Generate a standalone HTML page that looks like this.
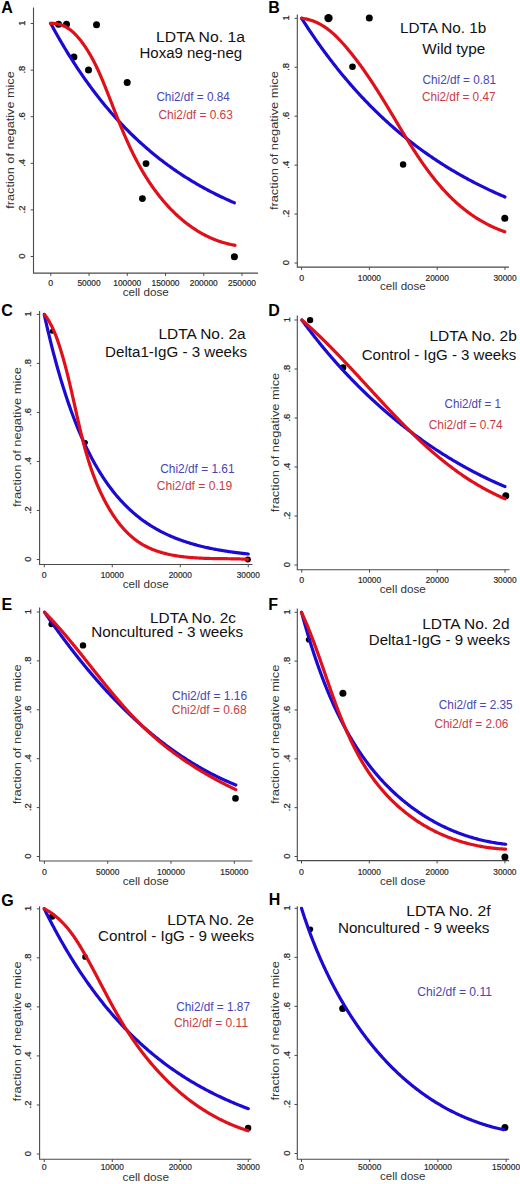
<!DOCTYPE html>
<html><head><meta charset="utf-8"><style>
html,body{margin:0;padding:0;background:#fff;}
svg{display:block;}
text{font-family:"Liberation Sans", sans-serif;}
</style></head><body>
<svg width="520" height="1184" viewBox="0 0 520 1184">
<rect width="520" height="1184" fill="#fff"/>
<text x="1.30" y="12.60" font-size="16" fill="#000" font-weight="bold" >A</text>
<path d="M33.50,7.40V273.10H258.00" fill="none" stroke="#4a4a4a" stroke-width="1.1"/>
<line x1="30.70" y1="256.50" x2="33.50" y2="256.50" stroke="#4a4a4a" stroke-width="1"/>
<text transform="translate(24.90,256.10) rotate(-90)" font-size="9.4" fill="#2a2a2a" text-anchor="middle" stroke="#2a2a2a" stroke-width="0.25">0</text>
<line x1="30.70" y1="209.90" x2="33.50" y2="209.90" stroke="#4a4a4a" stroke-width="1"/>
<text transform="translate(24.90,209.50) rotate(-90)" font-size="9.4" fill="#2a2a2a" text-anchor="middle" stroke="#2a2a2a" stroke-width="0.25">.2</text>
<line x1="30.70" y1="163.30" x2="33.50" y2="163.30" stroke="#4a4a4a" stroke-width="1"/>
<text transform="translate(24.90,162.90) rotate(-90)" font-size="9.4" fill="#2a2a2a" text-anchor="middle" stroke="#2a2a2a" stroke-width="0.25">.4</text>
<line x1="30.70" y1="116.70" x2="33.50" y2="116.70" stroke="#4a4a4a" stroke-width="1"/>
<text transform="translate(24.90,116.30) rotate(-90)" font-size="9.4" fill="#2a2a2a" text-anchor="middle" stroke="#2a2a2a" stroke-width="0.25">.6</text>
<line x1="30.70" y1="70.10" x2="33.50" y2="70.10" stroke="#4a4a4a" stroke-width="1"/>
<text transform="translate(24.90,69.70) rotate(-90)" font-size="9.4" fill="#2a2a2a" text-anchor="middle" stroke="#2a2a2a" stroke-width="0.25">.8</text>
<line x1="30.70" y1="23.50" x2="33.50" y2="23.50" stroke="#4a4a4a" stroke-width="1"/>
<text transform="translate(24.90,23.10) rotate(-90)" font-size="9.4" fill="#2a2a2a" text-anchor="middle" stroke="#2a2a2a" stroke-width="0.25">1</text>
<line x1="50.80" y1="273.10" x2="50.80" y2="275.90" stroke="#4a4a4a" stroke-width="1"/>
<text x="50.80" y="286.00" font-size="8.8" fill="#2a2a2a" text-anchor="middle" stroke="#2a2a2a" stroke-width="0.2">0</text>
<line x1="89.04" y1="273.10" x2="89.04" y2="275.90" stroke="#4a4a4a" stroke-width="1"/>
<text x="89.04" y="286.00" font-size="8.8" fill="#2a2a2a" text-anchor="middle" textLength="23.2" lengthAdjust="spacingAndGlyphs" stroke="#2a2a2a" stroke-width="0.2">50000</text>
<line x1="127.28" y1="273.10" x2="127.28" y2="275.90" stroke="#4a4a4a" stroke-width="1"/>
<text x="127.28" y="286.00" font-size="8.8" fill="#2a2a2a" text-anchor="middle" textLength="28" lengthAdjust="spacingAndGlyphs" stroke="#2a2a2a" stroke-width="0.2">100000</text>
<line x1="165.52" y1="273.10" x2="165.52" y2="275.90" stroke="#4a4a4a" stroke-width="1"/>
<text x="165.52" y="286.00" font-size="8.8" fill="#2a2a2a" text-anchor="middle" textLength="28" lengthAdjust="spacingAndGlyphs" stroke="#2a2a2a" stroke-width="0.2">150000</text>
<line x1="203.76" y1="273.10" x2="203.76" y2="275.90" stroke="#4a4a4a" stroke-width="1"/>
<text x="203.76" y="286.00" font-size="8.8" fill="#2a2a2a" text-anchor="middle" textLength="28" lengthAdjust="spacingAndGlyphs" stroke="#2a2a2a" stroke-width="0.2">200000</text>
<line x1="242.00" y1="273.10" x2="242.00" y2="275.90" stroke="#4a4a4a" stroke-width="1"/>
<text x="242.00" y="286.00" font-size="8.8" fill="#2a2a2a" text-anchor="middle" textLength="28" lengthAdjust="spacingAndGlyphs" stroke="#2a2a2a" stroke-width="0.2">250000</text>
<text x="122.70" y="296.30" font-size="11.2" fill="#333" textLength="46" lengthAdjust="spacingAndGlyphs" >cell dose</text>
<text transform="translate(14.40,140.00) rotate(-90)" font-size="11.2" fill="#333" text-anchor="middle" textLength="137.5" lengthAdjust="spacingAndGlyphs" >fraction of negative mice</text>
<text x="156.10" y="41.90" font-size="14.0" fill="#111" textLength="88.8" lengthAdjust="spacingAndGlyphs" >LDTA No. 1a</text>
<text x="139.50" y="58.10" font-size="14.0" fill="#111" textLength="102.6" lengthAdjust="spacingAndGlyphs" >Hoxa9 neg-neg</text>
<text x="156.40" y="101.20" font-size="12.5" fill="#4646b4" textLength="73.4" lengthAdjust="spacingAndGlyphs" >Chi2/df = 0.84</text>
<text x="158.50" y="119.20" font-size="12.5" fill="#c83c46" textLength="74.30000000000001" lengthAdjust="spacingAndGlyphs" >Chi2/df = 0.63</text>
<circle cx="58.50" cy="24.20" r="3.5" fill="#000"/>
<circle cx="66.50" cy="24.20" r="3.5" fill="#000"/>
<circle cx="96.50" cy="24.70" r="3.5" fill="#000"/>
<circle cx="73.90" cy="57.00" r="3.5" fill="#000"/>
<circle cx="88.50" cy="69.90" r="3.5" fill="#000"/>
<circle cx="127.20" cy="82.40" r="3.5" fill="#000"/>
<circle cx="146.00" cy="163.60" r="3.4" fill="#000"/>
<circle cx="142.40" cy="198.60" r="3.4" fill="#000"/>
<circle cx="234.40" cy="256.70" r="3.5" fill="#000"/>
<polyline points="50.80,23.50 52.34,26.35 53.88,29.17 55.43,31.96 56.97,34.71 58.51,37.43 60.05,40.11 61.60,42.76 63.14,45.38 64.68,47.97 66.22,50.52 67.77,53.05 69.31,55.54 70.85,58.00 72.39,60.43 73.94,62.84 75.48,65.21 77.02,67.55 78.56,69.87 80.11,72.15 81.65,74.41 83.19,76.64 84.73,78.85 86.28,81.02 87.82,83.17 89.36,85.30 90.90,87.40 92.45,89.47 93.99,91.51 95.53,93.53 97.07,95.53 98.62,97.50 100.16,99.45 101.70,101.38 103.24,103.28 104.79,105.15 106.33,107.01 107.87,108.84 109.41,110.65 110.96,112.44 112.50,114.20 114.04,115.94 115.58,117.67 117.13,119.37 118.67,121.05 120.21,122.71 121.75,124.35 123.30,125.97 124.84,127.56 126.38,129.14 127.92,130.70 129.47,132.25 131.01,133.77 132.55,135.27 134.09,136.76 135.63,138.22 137.18,139.67 138.72,141.10 140.26,142.52 141.80,143.92 143.35,145.29 144.89,146.66 146.43,148.00 147.97,149.33 149.52,150.65 151.06,151.94 152.60,153.22 154.14,154.49 155.69,155.74 157.23,156.97 158.77,158.19 160.31,159.40 161.86,160.59 163.40,161.76 164.94,162.92 166.48,164.07 168.03,165.20 169.57,166.32 171.11,167.42 172.65,168.52 174.20,169.59 175.74,170.66 177.28,171.71 178.82,172.75 180.37,173.78 181.91,174.79 183.45,175.79 184.99,176.78 186.54,177.76 188.08,178.72 189.62,179.67 191.16,180.61 192.71,181.54 194.25,182.46 195.79,183.37 197.33,184.27 198.88,185.15 200.42,186.03 201.96,186.89 203.50,187.74 205.05,188.58 206.59,189.42 208.13,190.24 209.67,191.05 211.22,191.85 212.76,192.64 214.30,193.43 215.84,194.20 217.39,194.96 218.93,195.72 220.47,196.46 222.01,197.20 223.55,197.92 225.10,198.64 226.64,199.35 228.18,200.05 229.72,200.74 231.27,201.42 232.81,202.10 234.35,202.77" fill="none" stroke="#1a0ad2" stroke-width="3.2" stroke-linejoin="round" stroke-linecap="round"/>
<polyline points="50.40,23.40 51.53,23.37 52.64,23.38 53.72,23.42 54.79,23.51 55.84,23.63 56.86,23.79 57.87,23.98 58.86,24.20 59.83,24.46 60.78,24.75 61.71,25.07 62.63,25.42 63.53,25.80 64.41,26.21 65.28,26.64 66.13,27.10 66.97,27.59 67.79,28.10 68.60,28.63 69.39,29.18 70.17,29.76 70.94,30.36 71.69,30.97 72.43,31.61 73.16,32.26 73.87,32.93 74.58,33.61 75.27,34.31 75.96,35.02 76.63,35.75 77.29,36.48 77.95,37.23 78.59,37.99 79.23,38.76 79.86,39.53 80.48,40.31 81.09,41.10 81.70,41.89 82.30,42.69 82.89,43.50 83.48,44.31 84.05,45.12 84.63,45.95 85.19,46.77 85.75,47.61 86.30,48.45 86.85,49.29 87.39,50.14 87.92,50.99 88.45,51.85 88.97,52.71 89.49,53.58 90.00,54.45 90.50,55.32 91.00,56.20 91.49,57.09 91.98,57.98 92.47,58.87 92.95,59.76 93.42,60.66 93.89,61.57 94.36,62.47 94.82,63.38 95.27,64.29 95.73,65.21 96.17,66.13 96.62,67.05 97.06,67.98 97.49,68.90 97.93,69.83 98.35,70.77 98.78,71.70 99.20,72.64 99.62,73.58 100.04,74.52 100.45,75.46 100.86,76.41 101.27,77.35 101.67,78.30 102.07,79.25 102.47,80.20 102.87,81.16 103.26,82.11 103.66,83.07 104.05,84.02 104.44,84.98 104.82,85.94 105.21,86.89 105.59,87.85 105.98,88.81 106.36,89.77 106.74,90.73 107.12,91.69 107.49,92.65 107.87,93.61 108.25,94.57 108.62,95.53 109.00,96.49 109.37,97.45 109.75,98.40 110.12,99.36 110.50,100.32 110.87,101.27 111.24,102.23 111.61,103.19 111.99,104.14 112.36,105.10 112.73,106.05 113.11,107.00 113.48,107.96 113.85,108.91 114.22,109.86 114.60,110.81 114.97,111.76 115.35,112.71 115.72,113.66 116.10,114.61 116.47,115.55 116.85,116.50 117.22,117.45 117.60,118.39 117.98,119.34 118.36,120.28 118.74,121.22 119.12,122.16 119.50,123.11 119.89,124.05 120.27,124.99 120.66,125.92 121.04,126.86 121.43,127.80 121.82,128.74 122.21,129.67 122.60,130.60 122.99,131.54 123.39,132.47 123.79,133.40 124.18,134.33 124.58,135.26 124.99,136.19 125.39,137.11 125.79,138.04 126.20,138.97 126.61,139.89 127.02,140.81 127.43,141.73 127.85,142.65 128.27,143.57 128.69,144.49 129.11,145.41 129.53,146.32 129.96,147.24 130.39,148.15 130.82,149.06 131.25,149.97 131.69,150.88 132.13,151.79 132.57,152.70 133.02,153.60 133.46,154.51 133.91,155.41 134.37,156.31 134.83,157.21 135.28,158.11 135.75,159.01 136.21,159.90 136.68,160.80 137.15,161.69 137.63,162.58 138.11,163.47 138.59,164.36 139.08,165.25 139.57,166.13 140.06,167.02 140.56,167.90 141.06,168.78 141.56,169.66 142.07,170.53 142.58,171.41 143.10,172.28 143.62,173.16 144.14,174.03 144.67,174.90 145.20,175.76 145.74,176.63 146.28,177.49 146.82,178.36 147.37,179.22 147.93,180.08 148.48,180.93 149.04,181.79 149.61,182.64 150.18,183.49 150.75,184.33 151.33,185.18 151.92,186.02 152.50,186.86 153.10,187.70 153.69,188.53 154.29,189.37 154.90,190.19 155.50,191.02 156.12,191.84 156.73,192.66 157.36,193.48 157.98,194.29 158.61,195.10 159.25,195.91 159.88,196.71 160.53,197.51 161.17,198.31 161.82,199.10 162.48,199.89 163.14,200.68 163.80,201.46 164.47,202.23 165.15,203.01 165.82,203.78 166.50,204.54 167.19,205.30 167.88,206.06 168.57,206.81 169.27,207.55 169.97,208.30 170.68,209.03 171.39,209.77 172.11,210.49 172.83,211.22 173.55,211.94 174.28,212.65 175.01,213.36 175.75,214.06 176.49,214.76 177.24,215.45 177.99,216.13 178.74,216.82 179.50,217.49 180.26,218.16 181.03,218.83 181.80,219.48 182.58,220.14 183.36,220.78 184.14,221.42 184.93,222.06 185.73,222.68 186.52,223.31 187.33,223.92 188.13,224.53 188.94,225.13 189.76,225.73 190.58,226.32 191.40,226.90 192.23,227.48 193.06,228.05 193.90,228.61 194.74,229.16 195.58,229.71 196.43,230.25 197.28,230.79 198.14,231.31 199.00,231.83 199.87,232.34 200.74,232.85 201.62,233.34 202.50,233.83 203.38,234.31 204.27,234.78 205.16,235.25 206.06,235.70 206.96,236.15 207.87,236.59 208.78,237.03 209.69,237.45 210.61,237.87 211.53,238.27 212.46,238.67 213.39,239.06 214.33,239.44 215.27,239.82 216.22,240.18 217.17,240.53 218.12,240.88 219.08,241.22 220.04,241.54 221.01,241.86 221.98,242.17 222.95,242.47 223.93,242.76 224.92,243.04 225.91,243.31 226.90,243.58 227.90,243.83 228.90,244.07 229.91,244.30 230.92,244.52 231.93,244.74 232.95,244.94 233.98,245.13 235.00,245.31" fill="none" stroke="#e0101a" stroke-width="3.2" stroke-linejoin="round" stroke-linecap="round"/>
<text x="268.30" y="12.50" font-size="16" fill="#000" font-weight="bold" >B</text>
<path d="M297.30,14.40V267.10H509.00" fill="none" stroke="#4a4a4a" stroke-width="1.1"/>
<line x1="294.50" y1="263.00" x2="297.30" y2="263.00" stroke="#4a4a4a" stroke-width="1"/>
<text transform="translate(289.00,262.60) rotate(-90)" font-size="9.4" fill="#2a2a2a" text-anchor="middle" stroke="#2a2a2a" stroke-width="0.25">0</text>
<line x1="294.50" y1="214.06" x2="297.30" y2="214.06" stroke="#4a4a4a" stroke-width="1"/>
<text transform="translate(289.00,213.66) rotate(-90)" font-size="9.4" fill="#2a2a2a" text-anchor="middle" stroke="#2a2a2a" stroke-width="0.25">.2</text>
<line x1="294.50" y1="165.12" x2="297.30" y2="165.12" stroke="#4a4a4a" stroke-width="1"/>
<text transform="translate(289.00,164.72) rotate(-90)" font-size="9.4" fill="#2a2a2a" text-anchor="middle" stroke="#2a2a2a" stroke-width="0.25">.4</text>
<line x1="294.50" y1="116.18" x2="297.30" y2="116.18" stroke="#4a4a4a" stroke-width="1"/>
<text transform="translate(289.00,115.78) rotate(-90)" font-size="9.4" fill="#2a2a2a" text-anchor="middle" stroke="#2a2a2a" stroke-width="0.25">.6</text>
<line x1="294.50" y1="67.24" x2="297.30" y2="67.24" stroke="#4a4a4a" stroke-width="1"/>
<text transform="translate(289.00,66.84) rotate(-90)" font-size="9.4" fill="#2a2a2a" text-anchor="middle" stroke="#2a2a2a" stroke-width="0.25">.8</text>
<line x1="294.50" y1="18.30" x2="297.30" y2="18.30" stroke="#4a4a4a" stroke-width="1"/>
<text transform="translate(289.00,17.90) rotate(-90)" font-size="9.4" fill="#2a2a2a" text-anchor="middle" stroke="#2a2a2a" stroke-width="0.25">1</text>
<line x1="301.60" y1="267.10" x2="301.60" y2="269.90" stroke="#4a4a4a" stroke-width="1"/>
<text x="301.60" y="281.10" font-size="8.8" fill="#2a2a2a" text-anchor="middle" stroke="#2a2a2a" stroke-width="0.2">0</text>
<line x1="369.40" y1="267.10" x2="369.40" y2="269.90" stroke="#4a4a4a" stroke-width="1"/>
<text x="369.40" y="281.10" font-size="8.8" fill="#2a2a2a" text-anchor="middle" textLength="23.2" lengthAdjust="spacingAndGlyphs" stroke="#2a2a2a" stroke-width="0.2">10000</text>
<line x1="437.20" y1="267.10" x2="437.20" y2="269.90" stroke="#4a4a4a" stroke-width="1"/>
<text x="437.20" y="281.10" font-size="8.8" fill="#2a2a2a" text-anchor="middle" textLength="23.2" lengthAdjust="spacingAndGlyphs" stroke="#2a2a2a" stroke-width="0.2">20000</text>
<line x1="505.00" y1="267.10" x2="505.00" y2="269.90" stroke="#4a4a4a" stroke-width="1"/>
<text x="505.00" y="281.10" font-size="8.8" fill="#2a2a2a" text-anchor="middle" textLength="23.2" lengthAdjust="spacingAndGlyphs" stroke="#2a2a2a" stroke-width="0.2">30000</text>
<text x="380.00" y="289.60" font-size="11.2" fill="#333" textLength="45.8" lengthAdjust="spacingAndGlyphs" >cell dose</text>
<text transform="translate(278.20,140.60) rotate(-90)" font-size="11.2" fill="#333" text-anchor="middle" textLength="139" lengthAdjust="spacingAndGlyphs" >fraction of negative mice</text>
<text x="399.90" y="33.10" font-size="14.0" fill="#111" textLength="86.5" lengthAdjust="spacingAndGlyphs" >LDTA No. 1b</text>
<text x="422.30" y="53.80" font-size="14.0" fill="#111" textLength="62.9" lengthAdjust="spacingAndGlyphs" >Wild type</text>
<text x="422.60" y="84.30" font-size="12.5" fill="#4646b4" textLength="73.4" lengthAdjust="spacingAndGlyphs" >Chi2/df = 0.81</text>
<text x="421.90" y="100.70" font-size="12.5" fill="#c83c46" textLength="73.60000000000001" lengthAdjust="spacingAndGlyphs" >Chi2/df = 0.47</text>
<circle cx="328.50" cy="18.10" r="4.2" fill="#000"/>
<circle cx="369.30" cy="18.10" r="3.5" fill="#000"/>
<circle cx="352.50" cy="66.80" r="3.3" fill="#000"/>
<circle cx="403.10" cy="164.50" r="3.2" fill="#000"/>
<circle cx="504.80" cy="218.20" r="3.5" fill="#000"/>
<polyline points="301.60,18.30 302.62,19.91 303.64,21.50 304.67,23.08 305.69,24.66 306.71,26.22 307.73,27.78 308.75,29.32 309.78,30.85 310.80,32.38 311.82,33.89 312.84,35.39 313.87,36.88 314.89,38.37 315.91,39.84 316.93,41.31 317.95,42.76 318.98,44.21 320.00,45.64 321.02,47.07 322.04,48.48 323.06,49.89 324.09,51.29 325.11,52.68 326.13,54.06 327.15,55.43 328.17,56.79 329.20,58.14 330.22,59.49 331.24,60.82 332.26,62.15 333.29,63.47 334.31,64.78 335.33,66.08 336.35,67.37 337.37,68.65 338.40,69.93 339.42,71.19 340.44,72.45 341.46,73.70 342.48,74.94 343.51,76.18 344.53,77.40 345.55,78.62 346.57,79.83 347.59,81.03 348.62,82.23 349.64,83.41 350.66,84.59 351.68,85.76 352.71,86.92 353.73,88.08 354.75,89.23 355.77,90.37 356.79,91.50 357.82,92.62 358.84,93.74 359.86,94.85 360.88,95.96 361.90,97.05 362.93,98.14 363.95,99.22 364.97,100.30 365.99,101.36 367.02,102.42 368.04,103.48 369.06,104.52 370.08,105.56 371.10,106.60 372.13,107.62 373.15,108.64 374.17,109.65 375.19,110.66 376.21,111.66 377.24,112.65 378.26,113.64 379.28,114.62 380.30,115.59 381.32,116.56 382.35,117.52 383.37,118.47 384.39,119.42 385.41,120.37 386.44,121.30 387.46,122.23 388.48,123.15 389.50,124.07 390.52,124.98 391.55,125.89 392.57,126.79 393.59,127.68 394.61,128.57 395.63,129.45 396.66,130.33 397.68,131.20 398.70,132.06 399.72,132.92 400.74,133.78 401.77,134.62 402.79,135.47 403.81,136.30 404.83,137.13 405.86,137.96 406.88,138.78 407.90,139.59 408.92,140.40 409.94,141.21 410.97,142.01 411.99,142.80 413.01,143.59 414.03,144.37 415.05,145.15 416.08,145.92 417.10,146.69 418.12,147.46 419.14,148.21 420.16,148.97 421.19,149.71 422.21,150.46 423.23,151.20 424.25,151.93 425.28,152.66 426.30,153.38 427.32,154.10 428.34,154.82 429.36,155.53 430.39,156.23 431.41,156.93 432.43,157.63 433.45,158.32 434.47,159.01 435.50,159.69 436.52,160.37 437.54,161.04 438.56,161.71 439.58,162.37 440.61,163.03 441.63,163.69 442.65,164.34 443.67,164.99 444.70,165.63 445.72,166.27 446.74,166.90 447.76,167.53 448.78,168.16 449.81,168.78 450.83,169.40 451.85,170.01 452.87,170.62 453.89,171.23 454.92,171.83 455.94,172.43 456.96,173.03 457.98,173.62 459.01,174.20 460.03,174.78 461.05,175.36 462.07,175.94 463.09,176.51 464.12,177.08 465.14,177.64 466.16,178.20 467.18,178.76 468.20,179.31 469.23,179.86 470.25,180.40 471.27,180.95 472.29,181.48 473.31,182.02 474.34,182.55 475.36,183.08 476.38,183.60 477.40,184.12 478.43,184.64 479.45,185.15 480.47,185.67 481.49,186.17 482.51,186.68 483.54,187.18 484.56,187.68 485.58,188.17 486.60,188.66 487.62,189.15 488.65,189.63 489.67,190.11 490.69,190.59 491.71,191.07 492.73,191.54 493.76,192.01 494.78,192.47 495.80,192.94 496.82,193.40 497.85,193.85 498.87,194.31 499.89,194.76 500.91,195.20 501.93,195.65 502.96,196.09 503.98,196.53 505.00,196.97" fill="none" stroke="#1a0ad2" stroke-width="3.2" stroke-linejoin="round" stroke-linecap="round"/>
<polyline points="301.60,18.28 302.66,18.42 303.72,18.57 304.76,18.74 305.79,18.94 306.80,19.15 307.81,19.39 308.80,19.64 309.79,19.92 310.76,20.21 311.72,20.52 312.67,20.85 313.61,21.20 314.54,21.56 315.47,21.95 316.38,22.35 317.28,22.76 318.17,23.19 319.05,23.64 319.93,24.10 320.79,24.58 321.65,25.07 322.50,25.57 323.33,26.09 324.16,26.62 324.99,27.17 325.80,27.73 326.61,28.30 327.41,28.88 328.20,29.48 328.98,30.08 329.76,30.70 330.53,31.33 331.29,31.96 332.05,32.61 332.80,33.27 333.54,33.93 334.28,34.61 335.01,35.29 335.73,35.98 336.45,36.68 337.17,37.38 337.88,38.10 338.58,38.82 339.28,39.54 339.97,40.27 340.66,41.01 341.34,41.75 342.02,42.50 342.70,43.25 343.37,44.01 344.04,44.76 344.70,45.53 345.37,46.29 346.02,47.06 346.68,47.83 347.33,48.60 347.98,49.38 348.62,50.15 349.26,50.93 349.90,51.71 350.54,52.49 351.17,53.28 351.80,54.06 352.43,54.85 353.05,55.64 353.68,56.43 354.29,57.23 354.91,58.02 355.53,58.82 356.14,59.62 356.75,60.42 357.35,61.23 357.96,62.03 358.56,62.84 359.16,63.64 359.75,64.46 360.35,65.27 360.94,66.08 361.53,66.90 362.12,67.71 362.70,68.53 363.29,69.35 363.87,70.17 364.45,71.00 365.02,71.82 365.60,72.65 366.17,73.48 366.74,74.30 367.31,75.14 367.88,75.97 368.45,76.80 369.01,77.64 369.57,78.47 370.13,79.31 370.69,80.15 371.25,80.99 371.81,81.83 372.36,82.68 372.92,83.52 373.47,84.37 374.02,85.21 374.57,86.06 375.11,86.91 375.66,87.76 376.21,88.62 376.75,89.47 377.29,90.32 377.83,91.18 378.37,92.04 378.91,92.89 379.45,93.75 379.99,94.61 380.53,95.47 381.06,96.34 381.60,97.20 382.13,98.06 382.67,98.93 383.20,99.79 383.73,100.66 384.26,101.53 384.79,102.40 385.32,103.27 385.85,104.14 386.38,105.01 386.91,105.88 387.44,106.75 387.96,107.63 388.49,108.50 389.02,109.38 389.55,110.25 390.07,111.13 390.60,112.00 391.12,112.88 391.65,113.76 392.18,114.64 392.70,115.52 393.23,116.40 393.75,117.28 394.28,118.16 394.81,119.04 395.33,119.92 395.86,120.80 396.38,121.68 396.91,122.56 397.44,123.44 397.97,124.32 398.49,125.20 399.02,126.08 399.55,126.96 400.08,127.84 400.61,128.72 401.14,129.60 401.67,130.48 402.20,131.36 402.73,132.24 403.26,133.12 403.80,134.00 404.33,134.88 404.87,135.75 405.40,136.63 405.94,137.50 406.48,138.38 407.01,139.25 407.55,140.12 408.09,141.00 408.63,141.87 409.18,142.74 409.72,143.61 410.26,144.48 410.81,145.34 411.36,146.21 411.91,147.07 412.46,147.94 413.01,148.80 413.56,149.66 414.11,150.52 414.67,151.38 415.23,152.24 415.78,153.09 416.34,153.94 416.91,154.80 417.47,155.65 418.03,156.50 418.60,157.34 419.17,158.19 419.74,159.03 420.31,159.87 420.88,160.71 421.46,161.55 422.04,162.39 422.62,163.22 423.20,164.05 423.78,164.88 424.37,165.71 424.96,166.54 425.55,167.36 426.14,168.18 426.73,169.00 427.33,169.82 427.93,170.63 428.53,171.44 429.13,172.25 429.74,173.06 430.35,173.86 430.96,174.66 431.57,175.46 432.19,176.25 432.81,177.05 433.43,177.84 434.06,178.62 434.68,179.41 435.31,180.19 435.94,180.97 436.58,181.74 437.22,182.51 437.86,183.28 438.50,184.05 439.15,184.81 439.80,185.57 440.45,186.33 441.11,187.08 441.77,187.83 442.43,188.57 443.10,189.31 443.76,190.05 444.44,190.79 445.11,191.52 445.79,192.25 446.47,192.97 447.16,193.69 447.85,194.41 448.54,195.12 449.24,195.83 449.94,196.53 450.64,197.23 451.35,197.93 452.06,198.62 452.77,199.31 453.49,199.99 454.21,200.67 454.94,201.35 455.66,202.02 456.40,202.69 457.14,203.35 457.88,204.01 458.62,204.66 459.37,205.31 460.12,205.96 460.88,206.60 461.64,207.23 462.41,207.86 463.18,208.49 463.95,209.11 464.73,209.73 465.51,210.34 466.30,210.94 467.09,211.55 467.89,212.14 468.69,212.73 469.50,213.32 470.31,213.90 471.12,214.48 471.94,215.05 472.76,215.61 473.59,216.17 474.42,216.73 475.26,217.28 476.10,217.82 476.95,218.36 477.80,218.89 478.66,219.42 479.52,219.94 480.39,220.46 481.26,220.97 482.14,221.47 483.02,221.97 483.91,222.46 484.80,222.95 485.70,223.43 486.61,223.90 487.52,224.37 488.43,224.83 489.35,225.29 490.27,225.74 491.20,226.18 492.14,226.62 493.08,227.05 494.03,227.48 494.98,227.90 495.94,228.31 496.90,228.71 497.87,229.11 498.85,229.51 499.83,229.89 500.81,230.27 501.81,230.64 502.81,231.01 503.81,231.37 504.82,231.72" fill="none" stroke="#e0101a" stroke-width="3.2" stroke-linejoin="round" stroke-linecap="round"/>
<text x="1.20" y="315.80" font-size="16" fill="#000" font-weight="bold" >C</text>
<path d="M39.60,311.00V564.50H252.50" fill="none" stroke="#4a4a4a" stroke-width="1.1"/>
<line x1="36.80" y1="559.50" x2="39.60" y2="559.50" stroke="#4a4a4a" stroke-width="1"/>
<text transform="translate(31.40,559.10) rotate(-90)" font-size="9.4" fill="#2a2a2a" text-anchor="middle" stroke="#2a2a2a" stroke-width="0.25">0</text>
<line x1="36.80" y1="510.48" x2="39.60" y2="510.48" stroke="#4a4a4a" stroke-width="1"/>
<text transform="translate(31.40,510.08) rotate(-90)" font-size="9.4" fill="#2a2a2a" text-anchor="middle" stroke="#2a2a2a" stroke-width="0.25">.2</text>
<line x1="36.80" y1="461.46" x2="39.60" y2="461.46" stroke="#4a4a4a" stroke-width="1"/>
<text transform="translate(31.40,461.06) rotate(-90)" font-size="9.4" fill="#2a2a2a" text-anchor="middle" stroke="#2a2a2a" stroke-width="0.25">.4</text>
<line x1="36.80" y1="412.44" x2="39.60" y2="412.44" stroke="#4a4a4a" stroke-width="1"/>
<text transform="translate(31.40,412.04) rotate(-90)" font-size="9.4" fill="#2a2a2a" text-anchor="middle" stroke="#2a2a2a" stroke-width="0.25">.6</text>
<line x1="36.80" y1="363.42" x2="39.60" y2="363.42" stroke="#4a4a4a" stroke-width="1"/>
<text transform="translate(31.40,363.02) rotate(-90)" font-size="9.4" fill="#2a2a2a" text-anchor="middle" stroke="#2a2a2a" stroke-width="0.25">.8</text>
<line x1="36.80" y1="314.40" x2="39.60" y2="314.40" stroke="#4a4a4a" stroke-width="1"/>
<text transform="translate(31.40,314.00) rotate(-90)" font-size="9.4" fill="#2a2a2a" text-anchor="middle" stroke="#2a2a2a" stroke-width="0.25">1</text>
<line x1="44.25" y1="564.50" x2="44.25" y2="567.30" stroke="#4a4a4a" stroke-width="1"/>
<text x="44.25" y="577.50" font-size="8.8" fill="#2a2a2a" text-anchor="middle" stroke="#2a2a2a" stroke-width="0.2">0</text>
<line x1="112.25" y1="564.50" x2="112.25" y2="567.30" stroke="#4a4a4a" stroke-width="1"/>
<text x="112.25" y="577.50" font-size="8.8" fill="#2a2a2a" text-anchor="middle" textLength="23.2" lengthAdjust="spacingAndGlyphs" stroke="#2a2a2a" stroke-width="0.2">10000</text>
<line x1="180.25" y1="564.50" x2="180.25" y2="567.30" stroke="#4a4a4a" stroke-width="1"/>
<text x="180.25" y="577.50" font-size="8.8" fill="#2a2a2a" text-anchor="middle" textLength="23.2" lengthAdjust="spacingAndGlyphs" stroke="#2a2a2a" stroke-width="0.2">20000</text>
<line x1="248.25" y1="564.50" x2="248.25" y2="567.30" stroke="#4a4a4a" stroke-width="1"/>
<text x="248.25" y="577.50" font-size="8.8" fill="#2a2a2a" text-anchor="middle" textLength="23.2" lengthAdjust="spacingAndGlyphs" stroke="#2a2a2a" stroke-width="0.2">30000</text>
<text x="122.70" y="587.70" font-size="11.2" fill="#333" textLength="46" lengthAdjust="spacingAndGlyphs" >cell dose</text>
<text transform="translate(21.00,437.00) rotate(-90)" font-size="11.2" fill="#333" text-anchor="middle" textLength="140" lengthAdjust="spacingAndGlyphs" >fraction of negative mice</text>
<text x="158.50" y="339.30" font-size="14.0" fill="#111" textLength="87.2" lengthAdjust="spacingAndGlyphs" >LDTA No. 2a</text>
<text x="105.10" y="356.60" font-size="14.0" fill="#111" textLength="142.0" lengthAdjust="spacingAndGlyphs" >Delta1-IgG - 3 weeks</text>
<text x="160.20" y="472.90" font-size="12.5" fill="#4646b4" textLength="74.4" lengthAdjust="spacingAndGlyphs" >Chi2/df = 1.61</text>
<text x="156.70" y="490.20" font-size="12.5" fill="#c83c46" textLength="75.60000000000001" lengthAdjust="spacingAndGlyphs" >Chi2/df = 0.19</text>
<circle cx="52.20" cy="331.20" r="2.5" fill="#000"/>
<circle cx="85.40" cy="442.50" r="2.5" fill="#000"/>
<circle cx="247.90" cy="559.40" r="3" fill="#000"/>
<polyline points="44.25,314.40 45.28,319.03 46.30,323.57 47.33,328.02 48.35,332.39 49.38,336.68 50.40,340.89 51.43,345.02 52.45,349.07 53.48,353.04 54.50,356.94 55.53,360.76 56.55,364.52 57.58,368.20 58.60,371.81 59.63,375.35 60.65,378.83 61.68,382.24 62.70,385.59 63.73,388.87 64.75,392.10 65.78,395.26 66.80,398.36 67.83,401.40 68.85,404.39 69.88,407.32 70.90,410.19 71.93,413.01 72.95,415.77 73.98,418.49 75.00,421.15 76.03,423.76 77.05,426.33 78.08,428.84 79.10,431.31 80.13,433.73 81.15,436.10 82.18,438.43 83.20,440.72 84.23,442.96 85.26,445.16 86.28,447.32 87.31,449.44 88.33,451.52 89.36,453.56 90.38,455.56 91.41,457.52 92.43,459.45 93.46,461.33 94.48,463.19 95.51,465.01 96.53,466.79 97.56,468.54 98.58,470.26 99.61,471.94 100.63,473.60 101.66,475.22 102.68,476.81 103.71,478.37 104.73,479.90 105.76,481.41 106.78,482.88 107.81,484.33 108.83,485.75 109.86,487.14 110.88,488.51 111.91,489.85 112.93,491.16 113.96,492.45 114.98,493.72 116.01,494.96 117.03,496.18 118.06,497.38 119.08,498.55 120.11,499.70 121.13,500.83 122.16,501.94 123.18,503.02 124.21,504.09 125.23,505.14 126.26,506.16 127.29,507.17 128.31,508.16 129.34,509.13 130.36,510.08 131.39,511.01 132.41,511.93 133.44,512.83 134.46,513.71 135.49,514.57 136.51,515.42 137.54,516.25 138.56,517.07 139.59,517.87 140.61,518.66 141.64,519.43 142.66,520.18 143.69,520.93 144.71,521.65 145.74,522.37 146.76,523.07 147.79,523.76 148.81,524.43 149.84,525.10 150.86,525.74 151.89,526.38 152.91,527.01 153.94,527.62 154.96,528.22 155.99,528.81 157.01,529.39 158.04,529.96 159.06,530.52 160.09,531.07 161.11,531.60 162.14,532.13 163.16,532.65 164.19,533.15 165.21,533.65 166.24,534.14 167.27,534.62 168.29,535.09 169.32,535.55 170.34,536.00 171.37,536.45 172.39,536.88 173.42,537.31 174.44,537.73 175.47,538.14 176.49,538.54 177.52,538.94 178.54,539.33 179.57,539.71 180.59,540.08 181.62,540.45 182.64,540.81 183.67,541.16 184.69,541.51 185.72,541.85 186.74,542.18 187.77,542.51 188.79,542.83 189.82,543.14 190.84,543.45 191.87,543.75 192.89,544.05 193.92,544.34 194.94,544.63 195.97,544.91 196.99,545.18 198.02,545.46 199.04,545.72 200.07,545.98 201.09,546.24 202.12,546.49 203.14,546.73 204.17,546.97 205.19,547.21 206.22,547.44 207.24,547.67 208.27,547.89 209.30,548.11 210.32,548.33 211.35,548.54 212.37,548.75 213.40,548.95 214.42,549.15 215.45,549.34 216.47,549.53 217.50,549.72 218.52,549.91 219.55,550.09 220.57,550.27 221.60,550.44 222.62,550.61 223.65,550.78 224.67,550.94 225.70,551.11 226.72,551.26 227.75,551.42 228.77,551.57 229.80,551.72 230.82,551.87 231.85,552.01 232.87,552.15 233.90,552.29 234.92,552.43 235.95,552.56 236.97,552.69 238.00,552.82 239.02,552.95 240.05,553.07 241.07,553.19 242.10,553.31 243.12,553.43 244.15,553.54 245.17,553.66 246.20,553.77 247.22,553.87 248.25,553.98" fill="none" stroke="#1a0ad2" stroke-width="3.2" stroke-linejoin="round" stroke-linecap="round"/>
<polyline points="44.62,314.58 45.31,315.52 45.98,316.46 46.64,317.42 47.27,318.39 47.90,319.37 48.50,320.36 49.10,321.36 49.68,322.37 50.24,323.40 50.79,324.43 51.33,325.47 51.86,326.52 52.37,327.57 52.87,328.64 53.36,329.71 53.84,330.79 54.31,331.88 54.77,332.98 55.21,334.08 55.65,335.18 56.08,336.30 56.51,337.42 56.92,338.54 57.33,339.67 57.73,340.80 58.12,341.94 58.51,343.08 58.89,344.22 59.27,345.37 59.64,346.52 60.00,347.67 60.37,348.83 60.72,349.99 61.08,351.15 61.43,352.31 61.78,353.47 62.12,354.63 62.46,355.80 62.80,356.97 63.14,358.13 63.47,359.30 63.80,360.48 64.12,361.65 64.45,362.82 64.77,364.00 65.08,365.18 65.40,366.35 65.71,367.53 66.02,368.71 66.33,369.89 66.63,371.08 66.93,372.26 67.23,373.44 67.53,374.63 67.83,375.81 68.12,377.00 68.41,378.19 68.70,379.37 68.99,380.56 69.27,381.75 69.56,382.94 69.84,384.13 70.12,385.32 70.40,386.51 70.67,387.70 70.95,388.89 71.23,390.08 71.50,391.28 71.77,392.47 72.04,393.66 72.31,394.85 72.58,396.04 72.85,397.23 73.12,398.42 73.38,399.61 73.65,400.81 73.91,402.00 74.18,403.19 74.44,404.38 74.71,405.57 74.97,406.76 75.24,407.95 75.50,409.13 75.76,410.32 76.03,411.51 76.29,412.70 76.56,413.89 76.82,415.07 77.09,416.26 77.35,417.45 77.62,418.63 77.89,419.82 78.16,421.00 78.43,422.18 78.70,423.37 78.97,424.55 79.25,425.73 79.52,426.91 79.80,428.09 80.08,429.27 80.36,430.45 80.64,431.63 80.92,432.81 81.21,433.98 81.49,435.16 81.78,436.34 82.08,437.51 82.37,438.68 82.67,439.86 82.97,441.03 83.27,442.20 83.57,443.37 83.88,444.54 84.19,445.70 84.51,446.87 84.82,448.04 85.14,449.20 85.47,450.36 85.79,451.53 86.12,452.69 86.46,453.85 86.80,455.01 87.14,456.16 87.48,457.32 87.83,458.48 88.19,459.63 88.54,460.78 88.90,461.93 89.27,463.08 89.64,464.23 90.02,465.38 90.40,466.53 90.78,467.67 91.17,468.81 91.56,469.96 91.96,471.10 92.37,472.23 92.78,473.37 93.19,474.51 93.61,475.64 94.04,476.77 94.47,477.90 94.91,479.03 95.35,480.16 95.80,481.29 96.25,482.41 96.71,483.53 97.18,484.65 97.65,485.77 98.13,486.89 98.62,488.01 99.11,489.12 99.61,490.23 100.12,491.34 100.63,492.45 101.15,493.56 101.68,494.66 102.21,495.76 102.75,496.86 103.30,497.96 103.85,499.06 104.42,500.15 104.99,501.24 105.57,502.33 106.15,503.42 106.75,504.50 107.35,505.58 107.96,506.65 108.57,507.72 109.20,508.79 109.83,509.85 110.47,510.90 111.12,511.95 111.78,513.00 112.45,514.03 113.12,515.06 113.80,516.09 114.50,517.10 115.20,518.11 115.90,519.11 116.62,520.11 117.35,521.09 118.08,522.07 118.83,523.03 119.58,523.99 120.34,524.94 121.11,525.88 121.89,526.80 122.68,527.72 123.48,528.62 124.29,529.52 125.11,530.40 125.93,531.27 126.77,532.13 127.62,532.98 128.47,533.81 129.34,534.63 130.21,535.43 131.10,536.23 131.99,537.00 132.90,537.77 133.81,538.52 134.74,539.25 135.68,539.97 136.62,540.67 137.58,541.36 138.54,542.03 139.52,542.68 140.51,543.32 141.51,543.94 142.52,544.54 143.53,545.13 144.56,545.70 145.60,546.25 146.65,546.79 147.71,547.31 148.78,547.81 149.85,548.30 150.94,548.77 152.03,549.23 153.13,549.67 154.24,550.10 155.36,550.52 156.49,550.92 157.62,551.31 158.76,551.68 159.91,552.04 161.06,552.39 162.22,552.72 163.39,553.05 164.56,553.36 165.74,553.65 166.93,553.94 168.12,554.21 169.32,554.48 170.52,554.73 171.73,554.97 172.94,555.20 174.15,555.42 175.37,555.63 176.60,555.84 177.83,556.03 179.06,556.21 180.29,556.38 181.53,556.55 182.77,556.70 184.02,556.85 185.27,556.99 186.52,557.12 187.77,557.25 189.02,557.36 190.28,557.47 191.53,557.58 192.79,557.67 194.05,557.76 195.31,557.85 196.58,557.93 197.84,558.00 199.10,558.07 200.36,558.13 201.62,558.19 202.89,558.24 204.15,558.29 205.41,558.34 206.67,558.38 207.93,558.41 209.18,558.45 210.44,558.48 211.69,558.51 212.94,558.53 214.19,558.56 215.44,558.58 216.68,558.60 217.92,558.62 219.16,558.64 220.40,558.65 221.63,558.67 222.86,558.68 224.08,558.69 225.30,558.71 226.51,558.72 227.72,558.74 228.93,558.75 230.13,558.77 231.32,558.79 232.51,558.81 233.70,558.83 234.88,558.85 236.05,558.87 237.22,558.90 238.38,558.93 239.53,558.96 240.67,559.00 241.81,559.04 242.94,559.08 244.07,559.13 245.18,559.18 246.29,559.24 247.39,559.30" fill="none" stroke="#e0101a" stroke-width="3.2" stroke-linejoin="round" stroke-linecap="round"/>
<text x="268.30" y="316.00" font-size="16" fill="#000" font-weight="bold" >D</text>
<path d="M297.30,315.40V569.80H509.60" fill="none" stroke="#4a4a4a" stroke-width="1.1"/>
<line x1="294.50" y1="565.00" x2="297.30" y2="565.00" stroke="#4a4a4a" stroke-width="1"/>
<text transform="translate(289.90,564.60) rotate(-90)" font-size="9.4" fill="#2a2a2a" text-anchor="middle" stroke="#2a2a2a" stroke-width="0.25">0</text>
<line x1="294.50" y1="516.00" x2="297.30" y2="516.00" stroke="#4a4a4a" stroke-width="1"/>
<text transform="translate(289.90,515.60) rotate(-90)" font-size="9.4" fill="#2a2a2a" text-anchor="middle" stroke="#2a2a2a" stroke-width="0.25">.2</text>
<line x1="294.50" y1="467.00" x2="297.30" y2="467.00" stroke="#4a4a4a" stroke-width="1"/>
<text transform="translate(289.90,466.60) rotate(-90)" font-size="9.4" fill="#2a2a2a" text-anchor="middle" stroke="#2a2a2a" stroke-width="0.25">.4</text>
<line x1="294.50" y1="418.00" x2="297.30" y2="418.00" stroke="#4a4a4a" stroke-width="1"/>
<text transform="translate(289.90,417.60) rotate(-90)" font-size="9.4" fill="#2a2a2a" text-anchor="middle" stroke="#2a2a2a" stroke-width="0.25">.6</text>
<line x1="294.50" y1="369.00" x2="297.30" y2="369.00" stroke="#4a4a4a" stroke-width="1"/>
<text transform="translate(289.90,368.60) rotate(-90)" font-size="9.4" fill="#2a2a2a" text-anchor="middle" stroke="#2a2a2a" stroke-width="0.25">.8</text>
<line x1="294.50" y1="320.00" x2="297.30" y2="320.00" stroke="#4a4a4a" stroke-width="1"/>
<text transform="translate(289.90,319.60) rotate(-90)" font-size="9.4" fill="#2a2a2a" text-anchor="middle" stroke="#2a2a2a" stroke-width="0.25">1</text>
<line x1="301.75" y1="569.80" x2="301.75" y2="572.60" stroke="#4a4a4a" stroke-width="1"/>
<text x="301.75" y="582.60" font-size="8.8" fill="#2a2a2a" text-anchor="middle" stroke="#2a2a2a" stroke-width="0.2">0</text>
<line x1="369.50" y1="569.80" x2="369.50" y2="572.60" stroke="#4a4a4a" stroke-width="1"/>
<text x="369.50" y="582.60" font-size="8.8" fill="#2a2a2a" text-anchor="middle" textLength="23.2" lengthAdjust="spacingAndGlyphs" stroke="#2a2a2a" stroke-width="0.2">10000</text>
<line x1="437.25" y1="569.80" x2="437.25" y2="572.60" stroke="#4a4a4a" stroke-width="1"/>
<text x="437.25" y="582.60" font-size="8.8" fill="#2a2a2a" text-anchor="middle" textLength="23.2" lengthAdjust="spacingAndGlyphs" stroke="#2a2a2a" stroke-width="0.2">20000</text>
<line x1="505.00" y1="569.80" x2="505.00" y2="572.60" stroke="#4a4a4a" stroke-width="1"/>
<text x="505.00" y="582.60" font-size="8.8" fill="#2a2a2a" text-anchor="middle" textLength="23.2" lengthAdjust="spacingAndGlyphs" stroke="#2a2a2a" stroke-width="0.2">30000</text>
<text x="379.80" y="592.50" font-size="11.2" fill="#333" textLength="46" lengthAdjust="spacingAndGlyphs" >cell dose</text>
<text transform="translate(278.60,442.50) rotate(-90)" font-size="11.2" fill="#333" text-anchor="middle" textLength="139.4" lengthAdjust="spacingAndGlyphs" >fraction of negative mice</text>
<text x="429.40" y="340.80" font-size="14.0" fill="#111" textLength="87.39999999999999" lengthAdjust="spacingAndGlyphs" >LDTA No. 2b</text>
<text x="361.70" y="359.50" font-size="14.0" fill="#111" textLength="154.5" lengthAdjust="spacingAndGlyphs" >Control - IgG - 3 weeks</text>
<text x="444.60" y="407.50" font-size="12.5" fill="#4646b4" textLength="56.3" lengthAdjust="spacingAndGlyphs" >Chi2/df = 1</text>
<text x="428.80" y="428.80" font-size="12.5" fill="#c83c46" textLength="73.9" lengthAdjust="spacingAndGlyphs" >Chi2/df = 0.74</text>
<circle cx="310.10" cy="320.10" r="3.2" fill="#000"/>
<circle cx="343.10" cy="367.50" r="3.2" fill="#000"/>
<circle cx="505.80" cy="495.80" r="3.5" fill="#000"/>
<polyline points="301.89,320.01 302.40,320.73 302.93,321.44 303.45,322.15 303.97,322.86 304.49,323.58 305.02,324.29 305.55,324.99 306.07,325.70 306.60,326.41 307.13,327.12 307.66,327.83 308.20,328.53 308.73,329.24 309.26,329.94 309.80,330.64 310.34,331.35 310.88,332.05 311.42,332.75 311.96,333.45 312.50,334.15 313.04,334.85 313.59,335.55 314.13,336.25 314.68,336.94 315.23,337.64 315.78,338.34 316.33,339.03 316.88,339.72 317.43,340.42 317.98,341.11 318.54,341.80 319.10,342.49 319.65,343.18 320.21,343.87 320.77,344.56 321.33,345.25 321.89,345.93 322.46,346.62 323.02,347.30 323.59,347.99 324.15,348.67 324.72,349.35 325.29,350.04 325.86,350.72 326.43,351.40 327.00,352.08 327.58,352.75 328.15,353.43 328.73,354.11 329.31,354.78 329.88,355.46 330.46,356.13 331.04,356.81 331.63,357.48 332.21,358.15 332.79,358.82 333.38,359.49 333.96,360.16 334.55,360.83 335.14,361.49 335.73,362.16 336.32,362.83 336.91,363.49 337.50,364.15 338.10,364.82 338.69,365.48 339.29,366.14 339.89,366.80 340.49,367.46 341.08,368.11 341.69,368.77 342.29,369.43 342.89,370.08 343.49,370.74 344.10,371.39 344.71,372.04 345.31,372.69 345.92,373.34 346.53,373.99 347.14,374.64 347.75,375.29 348.37,375.93 348.98,376.58 349.60,377.22 350.21,377.87 350.83,378.51 351.45,379.15 352.07,379.79 352.69,380.43 353.31,381.07 353.93,381.71 354.56,382.34 355.18,382.98 355.81,383.61 356.44,384.24 357.06,384.88 357.69,385.51 358.32,386.14 358.95,386.77 359.59,387.40 360.22,388.02 360.86,388.65 361.49,389.27 362.13,389.90 362.77,390.52 363.40,391.14 364.04,391.76 364.69,392.38 365.33,393.00 365.97,393.62 366.62,394.23 367.26,394.85 367.91,395.46 368.55,396.08 369.20,396.69 369.85,397.30 370.50,397.91 371.15,398.52 371.81,399.12 372.46,399.73 373.12,400.34 373.77,400.94 374.43,401.54 375.09,402.14 375.75,402.75 376.41,403.34 377.07,403.94 377.73,404.54 378.39,405.14 379.06,405.73 379.72,406.32 380.39,406.92 381.05,407.51 381.72,408.10 382.39,408.69 383.06,409.28 383.73,409.86 384.41,410.45 385.08,411.03 385.75,411.62 386.43,412.20 387.10,412.78 387.78,413.36 388.46,413.94 389.14,414.51 389.82,415.09 390.50,415.66 391.18,416.24 391.87,416.81 392.55,417.38 393.24,417.95 393.92,418.52 394.61,419.09 395.30,419.65 395.99,420.22 396.68,420.78 397.37,421.34 398.06,421.90 398.76,422.46 399.45,423.02 400.15,423.58 400.84,424.13 401.54,424.69 402.24,425.24 402.94,425.79 403.64,426.34 404.34,426.89 405.04,427.44 405.75,427.99 406.45,428.53 407.16,429.08 407.86,429.62 408.57,430.16 409.28,430.70 409.99,431.24 410.70,431.78 411.41,432.32 412.12,432.85 412.83,433.38 413.55,433.92 414.26,434.45 414.98,434.98 415.69,435.51 416.41,436.03 417.13,436.56 417.85,437.08 418.57,437.60 419.29,438.13 420.01,438.65 420.74,439.16 421.46,439.68 422.19,440.20 422.91,440.71 423.64,441.23 424.37,441.74 425.10,442.25 425.83,442.76 426.56,443.26 427.29,443.77 428.02,444.27 428.76,444.78 429.49,445.28 430.23,445.78 430.96,446.28 431.70,446.78 432.44,447.27 433.18,447.77 433.92,448.26 434.66,448.75 435.40,449.24 436.15,449.73 436.89,450.22 437.64,450.70 438.38,451.19 439.13,451.67 439.88,452.15 440.62,452.63 441.37,453.11 442.12,453.59 442.88,454.06 443.63,454.54 444.38,455.01 445.13,455.48 445.89,455.95 446.64,456.42 447.40,456.88 448.16,457.35 448.92,457.81 449.68,458.27 450.44,458.73 451.20,459.19 451.96,459.65 452.72,460.10 453.49,460.56 454.25,461.01 455.02,461.46 455.78,461.91 456.55,462.36 457.32,462.81 458.09,463.25 458.86,463.69 459.63,464.14 460.40,464.58 461.17,465.01 461.95,465.45 462.72,465.89 463.49,466.32 464.27,466.75 465.05,467.18 465.83,467.61 466.60,468.04 467.38,468.46 468.16,468.89 468.94,469.31 469.73,469.73 470.51,470.15 471.29,470.57 472.08,470.98 472.86,471.40 473.65,471.81 474.44,472.22 475.22,472.63 476.01,473.04 476.80,473.44 477.59,473.85 478.38,474.25 479.18,474.65 479.97,475.05 480.76,475.45 481.56,475.85 482.35,476.24 483.15,476.63 483.95,477.02 484.75,477.41 485.54,477.80 486.34,478.19 487.14,478.57 487.95,478.95 488.75,479.33 489.55,479.71 490.35,480.09 491.16,480.46 491.96,480.84 492.77,481.21 493.58,481.58 494.38,481.95 495.19,482.32 496.00,482.68 496.81,483.04 497.62,483.41 498.44,483.77 499.25,484.12 500.06,484.48 500.88,484.84 501.69,485.19 502.51,485.54 503.32,485.89 504.14,486.24 504.96,486.58" fill="none" stroke="#1a0ad2" stroke-width="3.2" stroke-linejoin="round" stroke-linecap="round"/>
<polyline points="301.91,320.00 302.59,320.59 303.27,321.18 303.95,321.78 304.63,322.37 305.31,322.97 305.98,323.57 306.66,324.18 307.33,324.78 308.00,325.38 308.67,325.99 309.34,326.60 310.01,327.21 310.68,327.82 311.34,328.43 312.01,329.04 312.67,329.66 313.34,330.27 314.00,330.89 314.66,331.51 315.32,332.13 315.98,332.75 316.64,333.37 317.29,334.00 317.95,334.62 318.61,335.25 319.26,335.88 319.91,336.51 320.57,337.14 321.22,337.77 321.87,338.40 322.52,339.03 323.17,339.67 323.82,340.31 324.46,340.94 325.11,341.58 325.76,342.22 326.40,342.86 327.04,343.50 327.69,344.14 328.33,344.79 328.97,345.43 329.61,346.08 330.25,346.72 330.89,347.37 331.53,348.02 332.17,348.67 332.81,349.32 333.44,349.97 334.08,350.62 334.72,351.27 335.35,351.93 335.99,352.58 336.62,353.23 337.25,353.89 337.88,354.55 338.52,355.20 339.15,355.86 339.78,356.52 340.41,357.18 341.04,357.84 341.67,358.50 342.30,359.16 342.93,359.82 343.55,360.49 344.18,361.15 344.81,361.81 345.43,362.48 346.06,363.14 346.69,363.81 347.31,364.48 347.94,365.14 348.56,365.81 349.19,366.48 349.81,367.14 350.43,367.81 351.06,368.48 351.68,369.15 352.30,369.82 352.92,370.49 353.55,371.16 354.17,371.83 354.79,372.50 355.41,373.18 356.03,373.85 356.65,374.52 357.27,375.19 357.89,375.86 358.51,376.54 359.14,377.21 359.76,377.88 360.38,378.56 360.99,379.23 361.61,379.91 362.23,380.58 362.85,381.25 363.47,381.93 364.09,382.60 364.71,383.28 365.33,383.95 365.95,384.63 366.57,385.30 367.19,385.98 367.81,386.65 368.43,387.33 369.05,388.00 369.67,388.67 370.29,389.35 370.90,390.02 371.52,390.70 372.14,391.37 372.76,392.05 373.38,392.72 374.00,393.39 374.62,394.07 375.24,394.74 375.86,395.41 376.49,396.09 377.11,396.76 377.73,397.43 378.35,398.11 378.97,398.78 379.59,399.45 380.21,400.12 380.84,400.79 381.46,401.46 382.08,402.13 382.70,402.80 383.33,403.47 383.95,404.14 384.58,404.81 385.20,405.48 385.83,406.15 386.45,406.82 387.08,407.48 387.70,408.15 388.33,408.82 388.96,409.48 389.58,410.15 390.21,410.81 390.84,411.47 391.47,412.14 392.10,412.80 392.73,413.46 393.36,414.12 393.99,414.78 394.62,415.44 395.25,416.10 395.88,416.76 396.52,417.42 397.15,418.08 397.79,418.73 398.42,419.39 399.06,420.04 399.69,420.70 400.33,421.35 400.97,422.00 401.60,422.65 402.24,423.31 402.88,423.96 403.52,424.60 404.16,425.25 404.80,425.90 405.45,426.55 406.09,427.19 406.73,427.83 407.38,428.48 408.02,429.12 408.67,429.76 409.32,430.40 409.97,431.04 410.61,431.68 411.26,432.31 411.91,432.95 412.57,433.59 413.22,434.22 413.87,434.85 414.53,435.48 415.18,436.11 415.84,436.74 416.49,437.37 417.15,438.00 417.81,438.62 418.47,439.24 419.13,439.87 419.79,440.49 420.46,441.11 421.12,441.73 421.79,442.34 422.45,442.96 423.12,443.57 423.79,444.19 424.46,444.80 425.13,445.41 425.80,446.02 426.47,446.63 427.15,447.23 427.82,447.84 428.50,448.44 429.17,449.04 429.85,449.64 430.53,450.24 431.21,450.84 431.90,451.43 432.58,452.03 433.26,452.62 433.95,453.21 434.64,453.80 435.33,454.38 436.02,454.97 436.71,455.55 437.40,456.14 438.10,456.72 438.79,457.29 439.49,457.87 440.19,458.45 440.89,459.02 441.59,459.59 442.29,460.16 442.99,460.73 443.70,461.29 444.40,461.86 445.11,462.42 445.82,462.98 446.53,463.54 447.25,464.10 447.96,464.65 448.68,465.20 449.39,465.75 450.11,466.30 450.83,466.85 451.56,467.39 452.28,467.94 453.00,468.48 453.73,469.02 454.46,469.55 455.19,470.09 455.92,470.62 456.65,471.15 457.39,471.68 458.13,472.20 458.87,472.73 459.61,473.25 460.35,473.77 461.09,474.28 461.84,474.80 462.58,475.31 463.33,475.82 464.08,476.33 464.84,476.83 465.59,477.34 466.35,477.84 467.11,478.34 467.87,478.83 468.63,479.33 469.39,479.82 470.16,480.31 470.92,480.79 471.69,481.28 472.46,481.76 473.24,482.24 474.01,482.71 474.79,483.19 475.57,483.66 476.35,484.13 477.13,484.59 477.92,485.06 478.71,485.52 479.50,485.98 480.29,486.43 481.08,486.89 481.88,487.34 482.67,487.79 483.47,488.23 484.27,488.67 485.08,489.11 485.88,489.55 486.69,489.99 487.50,490.42 488.32,490.85 489.13,491.27 489.95,491.70 490.77,492.12 491.59,492.53 492.41,492.95 493.24,493.36 494.06,493.77 494.89,494.17 495.73,494.58 496.56,494.98 497.40,495.37 498.24,495.77 499.08,496.16 499.92,496.55 500.77,496.93 501.62,497.32 502.47,497.69 503.32,498.07 504.18,498.44 505.04,498.81" fill="none" stroke="#e0101a" stroke-width="3.2" stroke-linejoin="round" stroke-linecap="round"/>
<text x="1.60" y="610.40" font-size="16" fill="#000" font-weight="bold" >E</text>
<path d="M39.60,607.50V861.00H252.40" fill="none" stroke="#4a4a4a" stroke-width="1.1"/>
<line x1="36.80" y1="856.50" x2="39.60" y2="856.50" stroke="#4a4a4a" stroke-width="1"/>
<text transform="translate(31.40,856.10) rotate(-90)" font-size="9.4" fill="#2a2a2a" text-anchor="middle" stroke="#2a2a2a" stroke-width="0.25">0</text>
<line x1="36.80" y1="807.60" x2="39.60" y2="807.60" stroke="#4a4a4a" stroke-width="1"/>
<text transform="translate(31.40,807.20) rotate(-90)" font-size="9.4" fill="#2a2a2a" text-anchor="middle" stroke="#2a2a2a" stroke-width="0.25">.2</text>
<line x1="36.80" y1="758.70" x2="39.60" y2="758.70" stroke="#4a4a4a" stroke-width="1"/>
<text transform="translate(31.40,758.30) rotate(-90)" font-size="9.4" fill="#2a2a2a" text-anchor="middle" stroke="#2a2a2a" stroke-width="0.25">.4</text>
<line x1="36.80" y1="709.80" x2="39.60" y2="709.80" stroke="#4a4a4a" stroke-width="1"/>
<text transform="translate(31.40,709.40) rotate(-90)" font-size="9.4" fill="#2a2a2a" text-anchor="middle" stroke="#2a2a2a" stroke-width="0.25">.6</text>
<line x1="36.80" y1="660.90" x2="39.60" y2="660.90" stroke="#4a4a4a" stroke-width="1"/>
<text transform="translate(31.40,660.50) rotate(-90)" font-size="9.4" fill="#2a2a2a" text-anchor="middle" stroke="#2a2a2a" stroke-width="0.25">.8</text>
<line x1="36.80" y1="612.00" x2="39.60" y2="612.00" stroke="#4a4a4a" stroke-width="1"/>
<text transform="translate(31.40,611.60) rotate(-90)" font-size="9.4" fill="#2a2a2a" text-anchor="middle" stroke="#2a2a2a" stroke-width="0.25">1</text>
<line x1="44.40" y1="861.00" x2="44.40" y2="863.80" stroke="#4a4a4a" stroke-width="1"/>
<text x="44.40" y="874.90" font-size="8.8" fill="#2a2a2a" text-anchor="middle" stroke="#2a2a2a" stroke-width="0.2">0</text>
<line x1="107.70" y1="861.00" x2="107.70" y2="863.80" stroke="#4a4a4a" stroke-width="1"/>
<text x="107.70" y="874.90" font-size="8.8" fill="#2a2a2a" text-anchor="middle" textLength="23.2" lengthAdjust="spacingAndGlyphs" stroke="#2a2a2a" stroke-width="0.2">50000</text>
<line x1="171.00" y1="861.00" x2="171.00" y2="863.80" stroke="#4a4a4a" stroke-width="1"/>
<text x="171.00" y="874.90" font-size="8.8" fill="#2a2a2a" text-anchor="middle" textLength="28" lengthAdjust="spacingAndGlyphs" stroke="#2a2a2a" stroke-width="0.2">100000</text>
<line x1="234.30" y1="861.00" x2="234.30" y2="863.80" stroke="#4a4a4a" stroke-width="1"/>
<text x="234.30" y="874.90" font-size="8.8" fill="#2a2a2a" text-anchor="middle" textLength="28" lengthAdjust="spacingAndGlyphs" stroke="#2a2a2a" stroke-width="0.2">150000</text>
<text x="122.70" y="885.00" font-size="11.2" fill="#333" textLength="46" lengthAdjust="spacingAndGlyphs" >cell dose</text>
<text transform="translate(21.00,734.30) rotate(-90)" font-size="11.2" fill="#333" text-anchor="middle" textLength="140" lengthAdjust="spacingAndGlyphs" >fraction of negative mice</text>
<text x="150.10" y="622.90" font-size="14.0" fill="#111" textLength="85.8" lengthAdjust="spacingAndGlyphs" >LDTA No. 2c</text>
<text x="91.20" y="636.90" font-size="14.0" fill="#111" textLength="151.9" lengthAdjust="spacingAndGlyphs" >Noncultured - 3 weeks</text>
<text x="172.10" y="699.70" font-size="12.5" fill="#4646b4" textLength="75.10000000000001" lengthAdjust="spacingAndGlyphs" >Chi2/df = 1.16</text>
<text x="171.80" y="714.40" font-size="12.5" fill="#c83c46" textLength="74.80000000000001" lengthAdjust="spacingAndGlyphs" >Chi2/df = 0.68</text>
<circle cx="51.40" cy="624.20" r="3" fill="#000"/>
<circle cx="83.00" cy="645.40" r="3.2" fill="#000"/>
<circle cx="235.50" cy="798.40" r="3.3" fill="#000"/>
<polyline points="44.49,612.20 44.99,612.91 45.48,613.62 45.97,614.33 46.47,615.04 46.96,615.75 47.46,616.46 47.95,617.17 48.45,617.88 48.95,618.59 49.45,619.29 49.95,620.00 50.45,620.71 50.95,621.42 51.45,622.13 51.95,622.83 52.45,623.54 52.96,624.25 53.46,624.95 53.97,625.66 54.48,626.36 54.98,627.07 55.49,627.78 56.00,628.48 56.51,629.18 57.02,629.89 57.53,630.59 58.05,631.30 58.56,632.00 59.07,632.70 59.59,633.41 60.10,634.11 60.62,634.81 61.14,635.51 61.65,636.21 62.17,636.91 62.69,637.61 63.21,638.31 63.74,639.01 64.26,639.71 64.78,640.41 65.31,641.11 65.83,641.81 66.36,642.50 66.88,643.20 67.41,643.90 67.94,644.59 68.47,645.29 69.00,645.98 69.53,646.68 70.06,647.37 70.60,648.07 71.13,648.76 71.66,649.45 72.20,650.14 72.74,650.84 73.27,651.53 73.81,652.22 74.35,652.91 74.89,653.60 75.43,654.29 75.97,654.97 76.52,655.66 77.06,656.35 77.60,657.03 78.15,657.72 78.70,658.40 79.24,659.09 79.79,659.77 80.34,660.46 80.89,661.14 81.44,661.82 81.99,662.50 82.55,663.18 83.10,663.86 83.65,664.54 84.21,665.22 84.77,665.90 85.32,666.57 85.88,667.25 86.44,667.93 87.00,668.60 87.56,669.28 88.13,669.95 88.69,670.62 89.25,671.29 89.82,671.96 90.38,672.63 90.95,673.30 91.52,673.97 92.09,674.64 92.66,675.31 93.23,675.97 93.80,676.64 94.37,677.30 94.95,677.97 95.52,678.63 96.10,679.29 96.68,679.95 97.25,680.61 97.83,681.27 98.41,681.93 98.99,682.59 99.57,683.25 100.16,683.90 100.74,684.56 101.33,685.21 101.91,685.86 102.50,686.52 103.09,687.17 103.68,687.82 104.26,688.47 104.86,689.12 105.45,689.76 106.04,690.41 106.63,691.06 107.23,691.70 107.83,692.34 108.42,692.99 109.02,693.63 109.62,694.27 110.22,694.91 110.82,695.54 111.42,696.18 112.03,696.82 112.63,697.45 113.24,698.09 113.84,698.72 114.45,699.35 115.06,699.98 115.67,700.61 116.28,701.24 116.89,701.87 117.50,702.49 118.12,703.12 118.73,703.74 119.35,704.37 119.97,704.99 120.58,705.61 121.20,706.23 121.82,706.85 122.45,707.46 123.07,708.08 123.69,708.69 124.32,709.31 124.94,709.92 125.57,710.53 126.20,711.14 126.83,711.75 127.46,712.36 128.09,712.96 128.72,713.57 129.35,714.17 129.99,714.77 130.62,715.37 131.26,715.97 131.90,716.57 132.54,717.17 133.18,717.76 133.82,718.36 134.46,718.95 135.11,719.54 135.75,720.13 136.40,720.72 137.04,721.31 137.69,721.90 138.34,722.48 138.99,723.06 139.64,723.65 140.30,724.23 140.95,724.81 141.61,725.38 142.26,725.96 142.92,726.54 143.58,727.11 144.24,727.68 144.90,728.25 145.56,728.82 146.22,729.39 146.89,729.96 147.55,730.52 148.22,731.08 148.89,731.65 149.56,732.21 150.23,732.77 150.90,733.32 151.57,733.88 152.25,734.43 152.92,734.99 153.60,735.54 154.28,736.09 154.95,736.64 155.63,737.18 156.32,737.73 157.00,738.27 157.68,738.81 158.37,739.35 159.05,739.89 159.74,740.43 160.43,740.96 161.12,741.50 161.81,742.03 162.50,742.56 163.19,743.09 163.89,743.61 164.58,744.14 165.28,744.66 165.98,745.19 166.68,745.71 167.38,746.23 168.08,746.74 168.78,747.26 169.49,747.77 170.19,748.28 170.90,748.79 171.61,749.30 172.32,749.81 173.03,750.31 173.74,750.82 174.45,751.32 175.17,751.82 175.88,752.31 176.60,752.81 177.32,753.30 178.04,753.80 178.76,754.29 179.48,754.78 180.21,755.26 180.93,755.75 181.66,756.23 182.38,756.71 183.11,757.19 183.84,757.67 184.57,758.14 185.31,758.62 186.04,759.09 186.78,759.56 187.51,760.03 188.25,760.49 188.99,760.96 189.73,761.42 190.47,761.88 191.21,762.34 191.96,762.80 192.70,763.25 193.45,763.70 194.20,764.15 194.95,764.60 195.70,765.05 196.45,765.49 197.20,765.93 197.96,766.38 198.72,766.81 199.47,767.25 200.23,767.68 200.99,768.12 201.75,768.55 202.52,768.98 203.28,769.40 204.05,769.83 204.81,770.25 205.58,770.67 206.35,771.09 207.12,771.50 207.90,771.92 208.67,772.33 209.45,772.74 210.22,773.14 211.00,773.55 211.78,773.95 212.56,774.35 213.34,774.75 214.13,775.15 214.91,775.54 215.70,775.93 216.48,776.32 217.27,776.71 218.06,777.10 218.86,777.48 219.65,777.86 220.44,778.24 221.24,778.62 222.04,778.99 222.84,779.36 223.64,779.73 224.44,780.10 225.24,780.47 226.05,780.83 226.85,781.19 227.66,781.55 228.47,781.90 229.28,782.26 230.09,782.61 230.90,782.96 231.72,783.30 232.53,783.65 233.35,783.99 234.17,784.33 234.99,784.67 235.81,785.00" fill="none" stroke="#1a0ad2" stroke-width="3.2" stroke-linejoin="round" stroke-linecap="round"/>
<polyline points="44.51,612.20 45.12,612.82 45.74,613.46 46.35,614.09 46.97,614.72 47.58,615.36 48.19,615.99 48.80,616.63 49.40,617.27 50.01,617.91 50.61,618.56 51.21,619.20 51.81,619.84 52.41,620.49 53.01,621.14 53.61,621.79 54.20,622.44 54.79,623.09 55.39,623.74 55.98,624.40 56.57,625.05 57.15,625.71 57.74,626.37 58.33,627.03 58.91,627.69 59.49,628.35 60.07,629.01 60.66,629.67 61.24,630.34 61.81,631.00 62.39,631.67 62.97,632.34 63.54,633.01 64.12,633.68 64.69,634.35 65.26,635.02 65.83,635.69 66.40,636.36 66.97,637.04 67.54,637.71 68.11,638.39 68.67,639.06 69.24,639.74 69.80,640.42 70.37,641.10 70.93,641.78 71.49,642.46 72.05,643.14 72.62,643.82 73.18,644.50 73.74,645.19 74.29,645.87 74.85,646.55 75.41,647.24 75.97,647.92 76.52,648.61 77.08,649.29 77.63,649.98 78.19,650.67 78.74,651.35 79.30,652.04 79.85,652.73 80.40,653.42 80.96,654.11 81.51,654.80 82.06,655.49 82.61,656.18 83.16,656.87 83.71,657.56 84.26,658.25 84.81,658.94 85.36,659.63 85.91,660.32 86.46,661.01 87.01,661.71 87.56,662.40 88.11,663.09 88.66,663.78 89.21,664.47 89.75,665.17 90.30,665.86 90.85,666.55 91.40,667.24 91.95,667.94 92.50,668.63 93.05,669.32 93.59,670.01 94.14,670.70 94.69,671.40 95.24,672.09 95.79,672.78 96.34,673.47 96.89,674.16 97.44,674.85 97.99,675.54 98.54,676.23 99.09,676.92 99.64,677.61 100.19,678.30 100.74,678.99 101.29,679.68 101.84,680.37 102.40,681.06 102.95,681.74 103.50,682.43 104.06,683.12 104.61,683.80 105.17,684.49 105.72,685.17 106.28,685.86 106.83,686.54 107.39,687.23 107.95,687.91 108.51,688.59 109.06,689.27 109.62,689.95 110.18,690.63 110.74,691.31 111.31,691.99 111.87,692.67 112.43,693.35 113.00,694.02 113.56,694.70 114.13,695.38 114.69,696.05 115.26,696.72 115.83,697.40 116.40,698.07 116.97,698.74 117.54,699.41 118.11,700.08 118.68,700.74 119.26,701.41 119.83,702.08 120.41,702.74 120.99,703.41 121.56,704.07 122.14,704.73 122.72,705.39 123.31,706.05 123.89,706.71 124.47,707.36 125.06,708.02 125.64,708.67 126.23,709.33 126.82,709.98 127.41,710.63 128.00,711.28 128.60,711.93 129.19,712.58 129.79,713.22 130.39,713.87 130.98,714.51 131.58,715.15 132.19,715.79 132.79,716.43 133.39,717.07 134.00,717.70 134.61,718.34 135.22,718.97 135.83,719.60 136.44,720.23 137.06,720.86 137.67,721.48 138.29,722.11 138.91,722.73 139.53,723.35 140.15,723.97 140.78,724.59 141.41,725.21 142.03,725.82 142.66,726.43 143.30,727.05 143.93,727.66 144.57,728.26 145.20,728.87 145.84,729.47 146.49,730.07 147.13,730.67 147.78,731.27 148.42,731.87 149.07,732.46 149.72,733.06 150.38,733.65 151.03,734.24 151.69,734.82 152.35,735.41 153.01,735.99 153.67,736.57 154.33,737.15 155.00,737.73 155.67,738.31 156.33,738.88 157.01,739.45 157.68,740.02 158.35,740.59 159.03,741.16 159.71,741.72 160.39,742.29 161.07,742.85 161.75,743.41 162.44,743.97 163.12,744.52 163.81,745.08 164.50,745.63 165.19,746.18 165.88,746.73 166.58,747.27 167.27,747.82 167.97,748.36 168.67,748.90 169.37,749.44 170.07,749.98 170.78,750.51 171.48,751.04 172.19,751.58 172.90,752.11 173.61,752.63 174.32,753.16 175.03,753.68 175.74,754.21 176.46,754.73 177.18,755.25 177.89,755.76 178.61,756.28 179.34,756.79 180.06,757.30 180.78,757.81 181.51,758.32 182.23,758.82 182.96,759.33 183.69,759.83 184.42,760.33 185.15,760.83 185.89,761.32 186.62,761.82 187.36,762.31 188.09,762.80 188.83,763.29 189.57,763.78 190.31,764.26 191.06,764.75 191.80,765.23 192.54,765.71 193.29,766.18 194.04,766.66 194.78,767.13 195.53,767.61 196.28,768.08 197.03,768.55 197.79,769.01 198.54,769.48 199.29,769.94 200.05,770.40 200.81,770.86 201.57,771.32 202.32,771.77 203.08,772.23 203.85,772.68 204.61,773.13 205.37,773.58 206.13,774.02 206.90,774.47 207.67,774.91 208.43,775.35 209.20,775.79 209.97,776.23 210.74,776.66 211.51,777.09 212.28,777.52 213.05,777.95 213.83,778.38 214.60,778.81 215.38,779.23 216.15,779.65 216.93,780.07 217.71,780.49 218.49,780.91 219.27,781.32 220.05,781.74 220.83,782.15 221.61,782.56 222.39,782.96 223.17,783.37 223.96,783.77 224.74,784.17 225.53,784.57 226.32,784.97 227.10,785.37 227.89,785.76 228.68,786.15 229.47,786.54 230.26,786.93 231.05,787.32 231.84,787.70 232.63,788.09 233.42,788.47 234.21,788.85 235.01,789.22 235.80,789.60" fill="none" stroke="#e0101a" stroke-width="3.2" stroke-linejoin="round" stroke-linecap="round"/>
<text x="268.30" y="610.00" font-size="16" fill="#000" font-weight="bold" >F</text>
<path d="M297.30,608.50V860.60H509.20" fill="none" stroke="#4a4a4a" stroke-width="1.1"/>
<line x1="294.50" y1="856.50" x2="297.30" y2="856.50" stroke="#4a4a4a" stroke-width="1"/>
<text transform="translate(289.90,856.10) rotate(-90)" font-size="9.4" fill="#2a2a2a" text-anchor="middle" stroke="#2a2a2a" stroke-width="0.25">0</text>
<line x1="294.50" y1="807.66" x2="297.30" y2="807.66" stroke="#4a4a4a" stroke-width="1"/>
<text transform="translate(289.90,807.26) rotate(-90)" font-size="9.4" fill="#2a2a2a" text-anchor="middle" stroke="#2a2a2a" stroke-width="0.25">.2</text>
<line x1="294.50" y1="758.82" x2="297.30" y2="758.82" stroke="#4a4a4a" stroke-width="1"/>
<text transform="translate(289.90,758.42) rotate(-90)" font-size="9.4" fill="#2a2a2a" text-anchor="middle" stroke="#2a2a2a" stroke-width="0.25">.4</text>
<line x1="294.50" y1="709.98" x2="297.30" y2="709.98" stroke="#4a4a4a" stroke-width="1"/>
<text transform="translate(289.90,709.58) rotate(-90)" font-size="9.4" fill="#2a2a2a" text-anchor="middle" stroke="#2a2a2a" stroke-width="0.25">.6</text>
<line x1="294.50" y1="661.14" x2="297.30" y2="661.14" stroke="#4a4a4a" stroke-width="1"/>
<text transform="translate(289.90,660.74) rotate(-90)" font-size="9.4" fill="#2a2a2a" text-anchor="middle" stroke="#2a2a2a" stroke-width="0.25">.8</text>
<line x1="294.50" y1="612.30" x2="297.30" y2="612.30" stroke="#4a4a4a" stroke-width="1"/>
<text transform="translate(289.90,611.90) rotate(-90)" font-size="9.4" fill="#2a2a2a" text-anchor="middle" stroke="#2a2a2a" stroke-width="0.25">1</text>
<line x1="301.50" y1="860.60" x2="301.50" y2="863.40" stroke="#4a4a4a" stroke-width="1"/>
<text x="301.50" y="874.50" font-size="8.8" fill="#2a2a2a" text-anchor="middle" stroke="#2a2a2a" stroke-width="0.2">0</text>
<line x1="369.30" y1="860.60" x2="369.30" y2="863.40" stroke="#4a4a4a" stroke-width="1"/>
<text x="369.30" y="874.50" font-size="8.8" fill="#2a2a2a" text-anchor="middle" textLength="23.2" lengthAdjust="spacingAndGlyphs" stroke="#2a2a2a" stroke-width="0.2">10000</text>
<line x1="437.10" y1="860.60" x2="437.10" y2="863.40" stroke="#4a4a4a" stroke-width="1"/>
<text x="437.10" y="874.50" font-size="8.8" fill="#2a2a2a" text-anchor="middle" textLength="23.2" lengthAdjust="spacingAndGlyphs" stroke="#2a2a2a" stroke-width="0.2">20000</text>
<line x1="504.90" y1="860.60" x2="504.90" y2="863.40" stroke="#4a4a4a" stroke-width="1"/>
<text x="504.90" y="874.50" font-size="8.8" fill="#2a2a2a" text-anchor="middle" textLength="23.2" lengthAdjust="spacingAndGlyphs" stroke="#2a2a2a" stroke-width="0.2">30000</text>
<text x="380.00" y="884.80" font-size="11.2" fill="#333" textLength="45.5" lengthAdjust="spacingAndGlyphs" >cell dose</text>
<text transform="translate(278.60,734.40) rotate(-90)" font-size="11.2" fill="#333" text-anchor="middle" textLength="139.4" lengthAdjust="spacingAndGlyphs" >fraction of negative mice</text>
<text x="422.20" y="628.80" font-size="14.0" fill="#111" textLength="87.39999999999999" lengthAdjust="spacingAndGlyphs" >LDTA No. 2d</text>
<text x="368.80" y="644.70" font-size="14.0" fill="#111" textLength="141.10000000000002" lengthAdjust="spacingAndGlyphs" >Delta1-IgG - 9 weeks</text>
<text x="438.80" y="708.70" font-size="12.5" fill="#4646b4" textLength="73.9" lengthAdjust="spacingAndGlyphs" >Chi2/df = 2.35</text>
<text x="434.50" y="727.50" font-size="12.5" fill="#c83c46" textLength="73.9" lengthAdjust="spacingAndGlyphs" >Chi2/df = 2.06</text>
<circle cx="308.60" cy="639.70" r="2.8" fill="#000"/>
<circle cx="342.90" cy="693.30" r="3.5" fill="#000"/>
<circle cx="504.90" cy="856.90" r="3.5" fill="#000"/>
<polyline points="301.52,612.30 301.80,613.34 302.09,614.37 302.37,615.41 302.66,616.44 302.95,617.48 303.25,618.52 303.54,619.56 303.83,620.60 304.13,621.64 304.43,622.68 304.72,623.72 305.02,624.76 305.33,625.81 305.63,626.85 305.93,627.90 306.24,628.94 306.55,629.99 306.86,631.04 307.17,632.09 307.48,633.14 307.79,634.19 308.11,635.24 308.43,636.29 308.74,637.34 309.06,638.39 309.39,639.44 309.71,640.49 310.04,641.55 310.36,642.60 310.69,643.65 311.02,644.71 311.36,645.76 311.69,646.81 312.03,647.87 312.37,648.92 312.71,649.98 313.05,651.03 313.39,652.09 313.74,653.14 314.08,654.19 314.43,655.25 314.79,656.30 315.14,657.36 315.49,658.41 315.85,659.47 316.21,660.52 316.57,661.57 316.94,662.63 317.30,663.68 317.67,664.73 318.04,665.79 318.41,666.84 318.79,667.89 319.16,668.94 319.54,670.00 319.92,671.05 320.30,672.10 320.69,673.15 321.08,674.20 321.47,675.24 321.86,676.29 322.25,677.34 322.65,678.39 323.05,679.43 323.45,680.48 323.85,681.52 324.26,682.57 324.67,683.61 325.08,684.65 325.49,685.69 325.90,686.73 326.32,687.77 326.74,688.81 327.17,689.85 327.59,690.88 328.02,691.92 328.45,692.95 328.88,693.99 329.32,695.02 329.76,696.05 330.20,697.08 330.64,698.11 331.09,699.14 331.53,700.16 331.99,701.19 332.44,702.21 332.90,703.23 333.36,704.25 333.82,705.27 334.28,706.29 334.75,707.30 335.22,708.32 335.69,709.33 336.17,710.34 336.65,711.35 337.13,712.36 337.61,713.37 338.10,714.37 338.59,715.38 339.09,716.38 339.58,717.38 340.08,718.38 340.58,719.37 341.09,720.37 341.60,721.36 342.11,722.35 342.62,723.34 343.14,724.32 343.66,725.31 344.18,726.29 344.71,727.27 345.24,728.25 345.77,729.22 346.31,730.20 346.85,731.17 347.39,732.14 347.93,733.11 348.48,734.07 349.03,735.03 349.59,735.99 350.15,736.95 350.71,737.91 351.27,738.86 351.84,739.81 352.41,740.76 352.99,741.70 353.57,742.65 354.15,743.59 354.73,744.53 355.32,745.46 355.91,746.39 356.51,747.32 357.11,748.25 357.71,749.17 358.31,750.10 358.92,751.02 359.54,751.93 360.15,752.84 360.77,753.75 361.40,754.66 362.02,755.57 362.65,756.47 363.29,757.37 363.93,758.26 364.57,759.15 365.21,760.04 365.86,760.93 366.52,761.81 367.17,762.69 367.83,763.57 368.50,764.44 369.16,765.31 369.83,766.18 370.51,767.04 371.19,767.90 371.87,768.76 372.56,769.61 373.25,770.46 373.94,771.31 374.64,772.15 375.34,772.99 376.05,773.82 376.76,774.65 377.48,775.48 378.19,776.31 378.92,777.13 379.64,777.95 380.37,778.76 381.11,779.57 381.84,780.38 382.58,781.18 383.33,781.98 384.08,782.77 384.83,783.56 385.59,784.35 386.35,785.13 387.11,785.91 387.88,786.69 388.65,787.46 389.43,788.22 390.21,788.99 390.99,789.75 391.78,790.50 392.57,791.25 393.36,792.00 394.16,792.74 394.96,793.48 395.77,794.22 396.58,794.95 397.39,795.67 398.21,796.39 399.03,797.11 399.85,797.82 400.68,798.53 401.51,799.24 402.34,799.94 403.18,800.63 404.02,801.32 404.87,802.01 405.72,802.69 406.57,803.37 407.42,804.04 408.28,804.71 409.15,805.38 410.01,806.04 410.88,806.69 411.76,807.34 412.63,807.99 413.51,808.63 414.40,809.27 415.29,809.90 416.18,810.52 417.07,811.15 417.97,811.76 418.87,812.38 419.77,812.98 420.68,813.59 421.59,814.19 422.51,814.78 423.42,815.37 424.35,815.95 425.27,816.53 426.20,817.10 427.13,817.67 428.06,818.23 429.00,818.79 429.94,819.34 430.89,819.89 431.84,820.43 432.79,820.97 433.74,821.50 434.70,822.03 435.66,822.55 436.62,823.07 437.59,823.58 438.56,824.09 439.53,824.59 440.51,825.08 441.49,825.57 442.47,826.06 443.46,826.54 444.45,827.01 445.44,827.48 446.44,827.94 447.44,828.40 448.44,828.85 449.44,829.30 450.45,829.74 451.46,830.17 452.48,830.60 453.49,831.02 454.51,831.44 455.54,831.85 456.56,832.26 457.59,832.66 458.62,833.05 459.66,833.44 460.70,833.83 461.74,834.20 462.78,834.58 463.83,834.94 464.88,835.30 465.93,835.65 466.99,836.00 468.05,836.34 469.11,836.68 470.17,837.01 471.24,837.33 472.31,837.65 473.38,837.96 474.46,838.27 475.54,838.57 476.62,838.86 477.70,839.15 478.79,839.43 479.88,839.70 480.97,839.97 482.07,840.23 483.17,840.49 484.27,840.73 485.37,840.98 486.48,841.21 487.59,841.44 488.70,841.67 489.81,841.88 490.93,842.09 492.05,842.30 493.18,842.50 494.30,842.69 495.43,842.87 496.56,843.05 497.69,843.22 498.83,843.38 499.97,843.54 501.11,843.69 502.25,843.84 503.40,843.97 504.55,844.11 505.70,844.23" fill="none" stroke="#1a0ad2" stroke-width="3.2" stroke-linejoin="round" stroke-linecap="round"/>
<polyline points="301.51,612.31 301.97,613.30 302.42,614.29 302.87,615.29 303.32,616.29 303.76,617.29 304.20,618.30 304.64,619.31 305.08,620.32 305.51,621.33 305.94,622.34 306.37,623.36 306.80,624.38 307.22,625.40 307.64,626.43 308.06,627.45 308.48,628.48 308.90,629.51 309.31,630.54 309.72,631.58 310.13,632.61 310.54,633.65 310.94,634.69 311.35,635.73 311.75,636.77 312.15,637.82 312.55,638.87 312.95,639.92 313.34,640.96 313.73,642.02 314.13,643.07 314.52,644.12 314.91,645.18 315.30,646.24 315.68,647.30 316.07,648.36 316.46,649.42 316.84,650.48 317.22,651.54 317.61,652.61 317.99,653.68 318.37,654.74 318.75,655.81 319.13,656.88 319.50,657.95 319.88,659.02 320.26,660.09 320.63,661.17 321.01,662.24 321.39,663.31 321.76,664.39 322.13,665.46 322.51,666.54 322.88,667.62 323.26,668.69 323.63,669.77 324.00,670.85 324.38,671.93 324.75,673.01 325.13,674.09 325.50,675.17 325.87,676.25 326.25,677.33 326.62,678.41 327.00,679.49 327.37,680.57 327.75,681.65 328.12,682.73 328.50,683.81 328.88,684.89 329.26,685.98 329.64,687.06 330.01,688.14 330.40,689.22 330.78,690.30 331.16,691.38 331.54,692.46 331.93,693.53 332.31,694.61 332.70,695.69 333.08,696.77 333.47,697.85 333.86,698.92 334.25,700.00 334.65,701.07 335.04,702.15 335.43,703.22 335.83,704.29 336.23,705.37 336.63,706.44 337.03,707.51 337.44,708.58 337.84,709.64 338.25,710.71 338.66,711.78 339.07,712.84 339.48,713.91 339.90,714.97 340.31,716.03 340.73,717.09 341.16,718.15 341.58,719.21 342.01,720.26 342.43,721.32 342.86,722.37 343.30,723.42 343.73,724.47 344.17,725.52 344.61,726.57 345.06,727.61 345.50,728.66 345.95,729.70 346.41,730.74 346.86,731.77 347.32,732.81 347.78,733.84 348.24,734.88 348.71,735.91 349.18,736.93 349.65,737.96 350.13,738.98 350.61,740.01 351.09,741.03 351.58,742.04 352.07,743.06 352.56,744.07 353.06,745.08 353.56,746.09 354.07,747.09 354.57,748.10 355.09,749.10 355.60,750.09 356.12,751.09 356.65,752.08 357.17,753.07 357.71,754.06 358.24,755.04 358.78,756.02 359.32,757.00 359.87,757.98 360.43,758.95 360.98,759.92 361.54,760.89 362.11,761.85 362.68,762.81 363.25,763.77 363.83,764.72 364.42,765.67 365.01,766.62 365.60,767.57 366.20,768.51 366.80,769.44 367.41,770.38 368.02,771.31 368.64,772.24 369.26,773.16 369.89,774.08 370.52,775.00 371.16,775.91 371.81,776.82 372.46,777.72 373.11,778.62 373.77,779.52 374.44,780.42 375.11,781.31 375.78,782.19 376.47,783.07 377.15,783.95 377.85,784.82 378.55,785.69 379.25,786.56 379.96,787.42 380.67,788.28 381.40,789.13 382.12,789.98 382.85,790.82 383.59,791.66 384.33,792.50 385.08,793.33 385.83,794.15 386.59,794.97 387.35,795.79 388.12,796.60 388.89,797.41 389.67,798.21 390.46,799.01 391.25,799.80 392.04,800.59 392.84,801.37 393.64,802.15 394.45,802.92 395.27,803.69 396.08,804.45 396.91,805.20 397.74,805.96 398.57,806.70 399.41,807.44 400.25,808.18 401.10,808.91 401.96,809.63 402.82,810.35 403.68,811.07 404.55,811.77 405.42,812.48 406.30,813.17 407.18,813.86 408.06,814.55 408.96,815.23 409.85,815.90 410.75,816.57 411.66,817.23 412.57,817.89 413.48,818.53 414.40,819.18 415.32,819.81 416.25,820.45 417.18,821.07 418.12,821.69 419.06,822.30 420.01,822.91 420.96,823.51 421.91,824.10 422.87,824.69 423.83,825.27 424.80,825.84 425.77,826.41 426.75,826.97 427.73,827.52 428.71,828.06 429.70,828.60 430.69,829.14 431.69,829.66 432.69,830.18 433.69,830.69 434.70,831.20 435.71,831.70 436.73,832.19 437.74,832.68 438.77,833.15 439.79,833.63 440.82,834.09 441.86,834.55 442.89,835.00 443.93,835.44 444.98,835.88 446.02,836.31 447.07,836.73 448.12,837.15 449.18,837.56 450.24,837.96 451.30,838.36 452.36,838.74 453.43,839.13 454.50,839.50 455.57,839.87 456.65,840.23 457.73,840.58 458.81,840.93 459.89,841.27 460.97,841.60 462.06,841.93 463.15,842.25 464.24,842.56 465.34,842.87 466.43,843.16 467.53,843.45 468.63,843.74 469.73,844.02 470.84,844.29 471.94,844.55 473.05,844.80 474.16,845.05 475.27,845.30 476.38,845.53 477.49,845.76 478.61,845.98 479.72,846.19 480.84,846.40 481.96,846.60 483.08,846.79 484.20,846.98 485.32,847.15 486.44,847.32 487.57,847.49 488.69,847.65 489.82,847.80 490.94,847.94 492.07,848.07 493.20,848.20 494.33,848.32 495.46,848.44 496.58,848.54 497.71,848.64 498.84,848.74 499.97,848.82 501.10,848.90 502.24,848.97 503.37,849.04 504.50,849.09 505.63,849.14" fill="none" stroke="#e0101a" stroke-width="3.2" stroke-linejoin="round" stroke-linecap="round"/>
<text x="1.20" y="906.00" font-size="16" fill="#000" font-weight="bold" >G</text>
<path d="M39.60,906.30V1159.20H251.40" fill="none" stroke="#4a4a4a" stroke-width="1.1"/>
<line x1="36.80" y1="1154.00" x2="39.60" y2="1154.00" stroke="#4a4a4a" stroke-width="1"/>
<text transform="translate(31.40,1153.60) rotate(-90)" font-size="9.4" fill="#2a2a2a" text-anchor="middle" stroke="#2a2a2a" stroke-width="0.25">0</text>
<line x1="36.80" y1="1104.96" x2="39.60" y2="1104.96" stroke="#4a4a4a" stroke-width="1"/>
<text transform="translate(31.40,1104.56) rotate(-90)" font-size="9.4" fill="#2a2a2a" text-anchor="middle" stroke="#2a2a2a" stroke-width="0.25">.2</text>
<line x1="36.80" y1="1055.92" x2="39.60" y2="1055.92" stroke="#4a4a4a" stroke-width="1"/>
<text transform="translate(31.40,1055.52) rotate(-90)" font-size="9.4" fill="#2a2a2a" text-anchor="middle" stroke="#2a2a2a" stroke-width="0.25">.4</text>
<line x1="36.80" y1="1006.88" x2="39.60" y2="1006.88" stroke="#4a4a4a" stroke-width="1"/>
<text transform="translate(31.40,1006.48) rotate(-90)" font-size="9.4" fill="#2a2a2a" text-anchor="middle" stroke="#2a2a2a" stroke-width="0.25">.6</text>
<line x1="36.80" y1="957.84" x2="39.60" y2="957.84" stroke="#4a4a4a" stroke-width="1"/>
<text transform="translate(31.40,957.44) rotate(-90)" font-size="9.4" fill="#2a2a2a" text-anchor="middle" stroke="#2a2a2a" stroke-width="0.25">.8</text>
<line x1="36.80" y1="908.80" x2="39.60" y2="908.80" stroke="#4a4a4a" stroke-width="1"/>
<text transform="translate(31.40,908.40) rotate(-90)" font-size="9.4" fill="#2a2a2a" text-anchor="middle" stroke="#2a2a2a" stroke-width="0.25">1</text>
<line x1="44.25" y1="1159.20" x2="44.25" y2="1162.00" stroke="#4a4a4a" stroke-width="1"/>
<text x="44.25" y="1170.00" font-size="8.8" fill="#2a2a2a" text-anchor="middle" stroke="#2a2a2a" stroke-width="0.2">0</text>
<line x1="112.25" y1="1159.20" x2="112.25" y2="1162.00" stroke="#4a4a4a" stroke-width="1"/>
<text x="112.25" y="1170.00" font-size="8.8" fill="#2a2a2a" text-anchor="middle" textLength="23.2" lengthAdjust="spacingAndGlyphs" stroke="#2a2a2a" stroke-width="0.2">10000</text>
<line x1="180.25" y1="1159.20" x2="180.25" y2="1162.00" stroke="#4a4a4a" stroke-width="1"/>
<text x="180.25" y="1170.00" font-size="8.8" fill="#2a2a2a" text-anchor="middle" textLength="23.2" lengthAdjust="spacingAndGlyphs" stroke="#2a2a2a" stroke-width="0.2">20000</text>
<line x1="248.25" y1="1159.20" x2="248.25" y2="1162.00" stroke="#4a4a4a" stroke-width="1"/>
<text x="248.25" y="1170.00" font-size="8.8" fill="#2a2a2a" text-anchor="middle" textLength="23.2" lengthAdjust="spacingAndGlyphs" stroke="#2a2a2a" stroke-width="0.2">30000</text>
<text x="122.50" y="1180.80" font-size="11.2" fill="#333" textLength="46.5" lengthAdjust="spacingAndGlyphs" >cell dose</text>
<text transform="translate(21.00,1031.40) rotate(-90)" font-size="11.2" fill="#333" text-anchor="middle" textLength="140" lengthAdjust="spacingAndGlyphs" >fraction of negative mice</text>
<text x="167.30" y="925.10" font-size="14.0" fill="#111" textLength="86.8" lengthAdjust="spacingAndGlyphs" >LDTA No. 2e</text>
<text x="98.00" y="940.80" font-size="14.0" fill="#111" textLength="156.10000000000002" lengthAdjust="spacingAndGlyphs" >Control - IgG - 9 weeks</text>
<text x="176.20" y="1011.00" font-size="12.5" fill="#4646b4" textLength="73.80000000000001" lengthAdjust="spacingAndGlyphs" >Chi2/df = 1.87</text>
<text x="173.90" y="1027.40" font-size="12.5" fill="#c83c46" textLength="74.2" lengthAdjust="spacingAndGlyphs" >Chi2/df = 0.11</text>
<circle cx="52.20" cy="916.50" r="3.2" fill="#000"/>
<circle cx="85.00" cy="956.90" r="2.8" fill="#000"/>
<circle cx="248.10" cy="1127.90" r="3.2" fill="#000"/>
<polyline points="44.25,908.80 45.28,910.87 46.30,912.93 47.33,914.96 48.35,916.99 49.38,918.99 50.40,920.97 51.43,922.94 52.45,924.90 53.48,926.83 54.50,928.75 55.53,930.66 56.55,932.54 57.58,934.42 58.60,936.27 59.63,938.11 60.65,939.94 61.68,941.75 62.70,943.54 63.73,945.32 64.75,947.08 65.78,948.83 66.80,950.57 67.83,952.28 68.85,953.99 69.88,955.68 70.90,957.36 71.93,959.02 72.95,960.67 73.98,962.30 75.00,963.92 76.03,965.53 77.05,967.12 78.08,968.70 79.10,970.27 80.13,971.82 81.15,973.36 82.18,974.88 83.20,976.40 84.23,977.90 85.26,979.39 86.28,980.86 87.31,982.33 88.33,983.78 89.36,985.22 90.38,986.64 91.41,988.06 92.43,989.46 93.46,990.85 94.48,992.23 95.51,993.60 96.53,994.95 97.56,996.30 98.58,997.63 99.61,998.95 100.63,1000.26 101.66,1001.56 102.68,1002.85 103.71,1004.13 104.73,1005.39 105.76,1006.65 106.78,1007.90 107.81,1009.13 108.83,1010.35 109.86,1011.57 110.88,1012.77 111.91,1013.97 112.93,1015.15 113.96,1016.32 114.98,1017.49 116.01,1018.64 117.03,1019.78 118.06,1020.92 119.08,1022.04 120.11,1023.16 121.13,1024.26 122.16,1025.36 123.18,1026.45 124.21,1027.53 125.23,1028.60 126.26,1029.66 127.29,1030.71 128.31,1031.75 129.34,1032.78 130.36,1033.81 131.39,1034.82 132.41,1035.83 133.44,1036.83 134.46,1037.82 135.49,1038.80 136.51,1039.77 137.54,1040.74 138.56,1041.70 139.59,1042.65 140.61,1043.59 141.64,1044.52 142.66,1045.45 143.69,1046.36 144.71,1047.27 145.74,1048.17 146.76,1049.07 147.79,1049.96 148.81,1050.84 149.84,1051.71 150.86,1052.57 151.89,1053.43 152.91,1054.28 153.94,1055.12 154.96,1055.96 155.99,1056.79 157.01,1057.61 158.04,1058.42 159.06,1059.23 160.09,1060.03 161.11,1060.83 162.14,1061.61 163.16,1062.39 164.19,1063.17 165.21,1063.94 166.24,1064.70 167.27,1065.45 168.29,1066.20 169.32,1066.94 170.34,1067.68 171.37,1068.41 172.39,1069.13 173.42,1069.85 174.44,1070.56 175.47,1071.26 176.49,1071.96 177.52,1072.66 178.54,1073.34 179.57,1074.03 180.59,1074.70 181.62,1075.37 182.64,1076.04 183.67,1076.70 184.69,1077.35 185.72,1078.00 186.74,1078.64 187.77,1079.28 188.79,1079.91 189.82,1080.53 190.84,1081.16 191.87,1081.77 192.89,1082.38 193.92,1082.99 194.94,1083.59 195.97,1084.18 196.99,1084.77 198.02,1085.36 199.04,1085.94 200.07,1086.51 201.09,1087.08 202.12,1087.65 203.14,1088.21 204.17,1088.77 205.19,1089.32 206.22,1089.86 207.24,1090.41 208.27,1090.94 209.30,1091.48 210.32,1092.00 211.35,1092.53 212.37,1093.05 213.40,1093.56 214.42,1094.07 215.45,1094.58 216.47,1095.08 217.50,1095.58 218.52,1096.07 219.55,1096.56 220.57,1097.05 221.60,1097.53 222.62,1098.01 223.65,1098.48 224.67,1098.95 225.70,1099.42 226.72,1099.88 227.75,1100.33 228.77,1100.79 229.80,1101.24 230.82,1101.68 231.85,1102.13 232.87,1102.56 233.90,1103.00 234.92,1103.43 235.95,1103.86 236.97,1104.28 238.00,1104.70 239.02,1105.12 240.05,1105.53 241.07,1105.94 242.10,1106.35 243.12,1106.75 244.15,1107.15 245.17,1107.55 246.20,1107.94 247.22,1108.33 248.25,1108.71" fill="none" stroke="#1a0ad2" stroke-width="3.2" stroke-linejoin="round" stroke-linecap="round"/>
<polyline points="44.31,908.78 45.24,909.27 46.16,909.78 47.06,910.30 47.95,910.84 48.83,911.38 49.70,911.94 50.56,912.51 51.41,913.09 52.25,913.68 53.08,914.28 53.89,914.89 54.70,915.51 55.49,916.15 56.28,916.79 57.06,917.44 57.82,918.10 58.58,918.78 59.33,919.46 60.07,920.15 60.80,920.85 61.52,921.56 62.23,922.27 62.94,923.00 63.63,923.73 64.32,924.48 65.00,925.23 65.68,925.98 66.34,926.75 67.00,927.52 67.65,928.30 68.29,929.08 68.93,929.88 69.56,930.68 70.19,931.48 70.80,932.29 71.41,933.11 72.02,933.93 72.62,934.76 73.21,935.60 73.80,936.44 74.39,937.28 74.96,938.13 75.54,938.98 76.10,939.84 76.67,940.70 77.23,941.57 77.78,942.44 78.33,943.31 78.88,944.19 79.42,945.07 79.96,945.95 80.50,946.84 81.03,947.73 81.56,948.62 82.09,949.52 82.61,950.41 83.13,951.31 83.65,952.21 84.17,953.11 84.68,954.01 85.19,954.92 85.71,955.82 86.21,956.73 86.72,957.64 87.23,958.54 87.73,959.45 88.23,960.36 88.73,961.27 89.23,962.19 89.73,963.10 90.23,964.01 90.73,964.93 91.22,965.84 91.71,966.76 92.20,967.67 92.70,968.59 93.19,969.51 93.68,970.42 94.16,971.34 94.65,972.26 95.14,973.18 95.63,974.10 96.11,975.02 96.60,975.94 97.08,976.86 97.57,977.78 98.05,978.71 98.53,979.63 99.02,980.55 99.50,981.47 99.98,982.39 100.47,983.31 100.95,984.24 101.43,985.16 101.91,986.08 102.40,987.00 102.88,987.92 103.37,988.85 103.85,989.77 104.33,990.69 104.82,991.61 105.30,992.53 105.79,993.45 106.28,994.37 106.76,995.29 107.25,996.21 107.74,997.13 108.23,998.05 108.72,998.97 109.21,999.88 109.71,1000.80 110.20,1001.72 110.70,1002.63 111.19,1003.55 111.69,1004.46 112.19,1005.37 112.69,1006.29 113.19,1007.20 113.70,1008.11 114.20,1009.02 114.71,1009.93 115.22,1010.83 115.73,1011.74 116.24,1012.65 116.75,1013.55 117.27,1014.45 117.79,1015.36 118.31,1016.26 118.83,1017.16 119.35,1018.06 119.88,1018.95 120.41,1019.85 120.94,1020.75 121.47,1021.64 122.01,1022.53 122.55,1023.42 123.09,1024.31 123.63,1025.20 124.18,1026.08 124.73,1026.97 125.28,1027.85 125.83,1028.73 126.39,1029.61 126.95,1030.49 127.51,1031.37 128.08,1032.24 128.64,1033.11 129.21,1033.98 129.79,1034.85 130.36,1035.72 130.94,1036.58 131.52,1037.45 132.11,1038.31 132.69,1039.17 133.28,1040.03 133.88,1040.88 134.47,1041.74 135.07,1042.59 135.67,1043.44 136.27,1044.28 136.88,1045.13 137.49,1045.97 138.10,1046.81 138.71,1047.65 139.33,1048.49 139.95,1049.32 140.57,1050.16 141.20,1050.99 141.82,1051.81 142.45,1052.64 143.09,1053.46 143.72,1054.28 144.36,1055.10 145.00,1055.92 145.65,1056.73 146.30,1057.54 146.95,1058.35 147.60,1059.16 148.25,1059.96 148.91,1060.76 149.57,1061.56 150.24,1062.36 150.90,1063.15 151.57,1063.94 152.25,1064.73 152.92,1065.51 153.60,1066.29 154.28,1067.07 154.96,1067.85 155.65,1068.63 156.34,1069.40 157.03,1070.16 157.73,1070.93 158.43,1071.69 159.13,1072.45 159.83,1073.21 160.54,1073.96 161.25,1074.71 161.96,1075.46 162.67,1076.21 163.39,1076.95 164.11,1077.69 164.84,1078.42 165.56,1079.15 166.29,1079.88 167.02,1080.61 167.76,1081.33 168.50,1082.05 169.24,1082.77 169.98,1083.48 170.73,1084.19 171.48,1084.89 172.23,1085.60 172.98,1086.30 173.74,1086.99 174.50,1087.68 175.27,1088.37 176.04,1089.06 176.81,1089.74 177.58,1090.42 178.35,1091.09 179.13,1091.77 179.91,1092.43 180.70,1093.10 181.49,1093.76 182.28,1094.42 183.07,1095.07 183.87,1095.72 184.67,1096.36 185.47,1097.01 186.27,1097.64 187.08,1098.28 187.89,1098.91 188.71,1099.53 189.52,1100.16 190.34,1100.78 191.17,1101.39 191.99,1102.00 192.82,1102.61 193.65,1103.21 194.49,1103.81 195.33,1104.40 196.17,1104.99 197.01,1105.58 197.86,1106.16 198.71,1106.74 199.56,1107.31 200.42,1107.88 201.27,1108.45 202.14,1109.01 203.00,1109.57 203.87,1110.12 204.74,1110.67 205.61,1111.21 206.49,1111.75 207.37,1112.29 208.25,1112.82 209.14,1113.34 210.03,1113.86 210.92,1114.38 211.82,1114.89 212.72,1115.40 213.62,1115.91 214.52,1116.40 215.43,1116.90 216.34,1117.39 217.25,1117.87 218.17,1118.35 219.09,1118.83 220.01,1119.30 220.94,1119.76 221.87,1120.23 222.80,1120.68 223.73,1121.13 224.67,1121.58 225.61,1122.02 226.56,1122.46 227.51,1122.89 228.46,1123.32 229.41,1123.74 230.37,1124.16 231.33,1124.57 232.29,1124.97 233.26,1125.38 234.23,1125.77 235.20,1126.16 236.17,1126.55 237.15,1126.93 238.13,1127.31 239.12,1127.68 240.11,1128.04 241.10,1128.40 242.09,1128.76 243.09,1129.10 244.09,1129.45 245.10,1129.79 246.10,1130.12 247.11,1130.45 248.13,1130.77" fill="none" stroke="#e0101a" stroke-width="3.2" stroke-linejoin="round" stroke-linecap="round"/>
<text x="268.80" y="905.40" font-size="16" fill="#000" font-weight="bold" >H</text>
<path d="M297.30,906.30V1159.20H509.20" fill="none" stroke="#4a4a4a" stroke-width="1.1"/>
<line x1="294.50" y1="1153.50" x2="297.30" y2="1153.50" stroke="#4a4a4a" stroke-width="1"/>
<text transform="translate(289.90,1153.10) rotate(-90)" font-size="9.4" fill="#2a2a2a" text-anchor="middle" stroke="#2a2a2a" stroke-width="0.25">0</text>
<line x1="294.50" y1="1104.46" x2="297.30" y2="1104.46" stroke="#4a4a4a" stroke-width="1"/>
<text transform="translate(289.90,1104.06) rotate(-90)" font-size="9.4" fill="#2a2a2a" text-anchor="middle" stroke="#2a2a2a" stroke-width="0.25">.2</text>
<line x1="294.50" y1="1055.42" x2="297.30" y2="1055.42" stroke="#4a4a4a" stroke-width="1"/>
<text transform="translate(289.90,1055.02) rotate(-90)" font-size="9.4" fill="#2a2a2a" text-anchor="middle" stroke="#2a2a2a" stroke-width="0.25">.4</text>
<line x1="294.50" y1="1006.38" x2="297.30" y2="1006.38" stroke="#4a4a4a" stroke-width="1"/>
<text transform="translate(289.90,1005.98) rotate(-90)" font-size="9.4" fill="#2a2a2a" text-anchor="middle" stroke="#2a2a2a" stroke-width="0.25">.6</text>
<line x1="294.50" y1="957.34" x2="297.30" y2="957.34" stroke="#4a4a4a" stroke-width="1"/>
<text transform="translate(289.90,956.94) rotate(-90)" font-size="9.4" fill="#2a2a2a" text-anchor="middle" stroke="#2a2a2a" stroke-width="0.25">.8</text>
<line x1="294.50" y1="908.30" x2="297.30" y2="908.30" stroke="#4a4a4a" stroke-width="1"/>
<text transform="translate(289.90,907.90) rotate(-90)" font-size="9.4" fill="#2a2a2a" text-anchor="middle" stroke="#2a2a2a" stroke-width="0.25">1</text>
<line x1="301.50" y1="1159.20" x2="301.50" y2="1162.00" stroke="#4a4a4a" stroke-width="1"/>
<text x="301.50" y="1170.30" font-size="8.8" fill="#2a2a2a" text-anchor="middle" stroke="#2a2a2a" stroke-width="0.2">0</text>
<line x1="369.70" y1="1159.20" x2="369.70" y2="1162.00" stroke="#4a4a4a" stroke-width="1"/>
<text x="369.70" y="1170.30" font-size="8.8" fill="#2a2a2a" text-anchor="middle" textLength="23.2" lengthAdjust="spacingAndGlyphs" stroke="#2a2a2a" stroke-width="0.2">50000</text>
<line x1="437.90" y1="1159.20" x2="437.90" y2="1162.00" stroke="#4a4a4a" stroke-width="1"/>
<text x="437.90" y="1170.30" font-size="8.8" fill="#2a2a2a" text-anchor="middle" textLength="28" lengthAdjust="spacingAndGlyphs" stroke="#2a2a2a" stroke-width="0.2">100000</text>
<line x1="506.10" y1="1159.20" x2="506.10" y2="1162.00" stroke="#4a4a4a" stroke-width="1"/>
<text x="506.10" y="1170.30" font-size="8.8" fill="#2a2a2a" text-anchor="middle" textLength="28" lengthAdjust="spacingAndGlyphs" stroke="#2a2a2a" stroke-width="0.2">150000</text>
<text x="380.00" y="1180.20" font-size="11.2" fill="#333" textLength="45.5" lengthAdjust="spacingAndGlyphs" >cell dose</text>
<text transform="translate(278.60,1030.90) rotate(-90)" font-size="11.2" fill="#333" text-anchor="middle" textLength="139.4" lengthAdjust="spacingAndGlyphs" >fraction of negative mice</text>
<text x="406.30" y="915.80" font-size="14.0" fill="#111" textLength="84.3" lengthAdjust="spacingAndGlyphs" >LDTA No. 2f</text>
<text x="337.90" y="932.60" font-size="14.0" fill="#111" textLength="151.60000000000002" lengthAdjust="spacingAndGlyphs" >Noncultured - 9 weeks</text>
<text x="417.30" y="995.50" font-size="12.5" fill="#4646b4" textLength="74.7" lengthAdjust="spacingAndGlyphs" >Chi2/df = 0.11</text>
<circle cx="310.40" cy="929.20" r="2.8" fill="#000"/>
<circle cx="342.70" cy="1008.60" r="3.5" fill="#000"/>
<circle cx="504.90" cy="1127.60" r="3.5" fill="#000"/>
<polyline points="301.52,908.30 301.83,909.28 302.14,910.27 302.46,911.25 302.78,912.23 303.09,913.22 303.42,914.20 303.74,915.18 304.07,916.17 304.39,917.15 304.72,918.14 305.06,919.12 305.39,920.11 305.73,921.09 306.07,922.07 306.41,923.06 306.75,924.04 307.10,925.03 307.45,926.01 307.80,926.99 308.15,927.98 308.50,928.96 308.86,929.94 309.22,930.93 309.58,931.91 309.94,932.89 310.31,933.88 310.68,934.86 311.05,935.84 311.42,936.82 311.80,937.80 312.17,938.78 312.55,939.76 312.93,940.74 313.32,941.72 313.70,942.70 314.09,943.68 314.48,944.66 314.88,945.64 315.27,946.61 315.67,947.59 316.07,948.57 316.47,949.54 316.88,950.52 317.28,951.49 317.69,952.47 318.10,953.44 318.52,954.41 318.93,955.38 319.35,956.36 319.77,957.33 320.20,958.30 320.62,959.27 321.05,960.23 321.48,961.20 321.91,962.17 322.35,963.13 322.78,964.10 323.22,965.06 323.66,966.03 324.11,966.99 324.56,967.95 325.00,968.91 325.45,969.87 325.91,970.83 326.36,971.79 326.82,972.75 327.28,973.70 327.75,974.66 328.21,975.61 328.68,976.56 329.15,977.52 329.62,978.47 330.10,979.42 330.57,980.36 331.05,981.31 331.54,982.26 332.02,983.20 332.51,984.15 333.00,985.09 333.49,986.03 333.98,986.97 334.48,987.91 334.98,988.84 335.48,989.78 335.98,990.72 336.49,991.65 337.00,992.58 337.51,993.51 338.02,994.44 338.54,995.37 339.06,996.29 339.58,997.22 340.10,998.14 340.63,999.06 341.16,999.98 341.69,1000.90 342.22,1001.82 342.75,1002.74 343.29,1003.65 343.83,1004.56 344.38,1005.47 344.92,1006.38 345.47,1007.29 346.02,1008.19 346.57,1009.10 347.13,1010.00 347.69,1010.90 348.25,1011.80 348.81,1012.70 349.38,1013.59 349.94,1014.49 350.51,1015.38 351.09,1016.27 351.66,1017.15 352.24,1018.04 352.82,1018.92 353.40,1019.81 353.99,1020.69 354.58,1021.57 355.17,1022.44 355.76,1023.32 356.36,1024.19 356.95,1025.06 357.55,1025.93 358.16,1026.79 358.76,1027.66 359.37,1028.52 359.98,1029.38 360.60,1030.23 361.21,1031.09 361.83,1031.94 362.45,1032.79 363.08,1033.64 363.70,1034.49 364.33,1035.33 364.96,1036.18 365.60,1037.02 366.23,1037.85 366.87,1038.69 367.51,1039.52 368.16,1040.35 368.80,1041.18 369.45,1042.01 370.11,1042.83 370.76,1043.65 371.42,1044.47 372.08,1045.28 372.74,1046.10 373.41,1046.91 374.07,1047.72 374.74,1048.52 375.42,1049.32 376.09,1050.12 376.77,1050.92 377.45,1051.72 378.14,1052.51 378.82,1053.30 379.51,1054.09 380.20,1054.87 380.90,1055.65 381.59,1056.43 382.29,1057.21 382.99,1057.98 383.70,1058.75 384.41,1059.52 385.12,1060.29 385.83,1061.05 386.55,1061.81 387.26,1062.57 387.98,1063.32 388.71,1064.07 389.43,1064.82 390.16,1065.56 390.89,1066.31 391.63,1067.05 392.37,1067.78 393.10,1068.51 393.85,1069.24 394.59,1069.97 395.34,1070.70 396.09,1071.42 396.84,1072.13 397.60,1072.85 398.36,1073.56 399.12,1074.27 399.88,1074.97 400.65,1075.67 401.42,1076.37 402.19,1077.07 402.97,1077.76 403.74,1078.45 404.52,1079.13 405.31,1079.82 406.09,1080.50 406.88,1081.17 407.67,1081.84 408.47,1082.51 409.26,1083.18 410.06,1083.84 410.87,1084.50 411.67,1085.15 412.48,1085.80 413.29,1086.45 414.10,1087.10 414.92,1087.74 415.73,1088.37 416.56,1089.01 417.38,1089.64 418.21,1090.27 419.04,1090.89 419.87,1091.51 420.70,1092.12 421.54,1092.74 422.38,1093.34 423.22,1093.95 424.07,1094.55 424.92,1095.15 425.77,1095.74 426.62,1096.33 427.48,1096.92 428.34,1097.50 429.20,1098.08 430.07,1098.65 430.93,1099.22 431.80,1099.79 432.68,1100.35 433.55,1100.91 434.43,1101.47 435.31,1102.02 436.20,1102.57 437.08,1103.11 437.97,1103.65 438.86,1104.18 439.76,1104.71 440.66,1105.24 441.56,1105.76 442.46,1106.28 443.37,1106.80 444.27,1107.31 445.19,1107.82 446.10,1108.32 447.02,1108.82 447.94,1109.31 448.86,1109.80 449.78,1110.29 450.71,1110.77 451.64,1111.24 452.57,1111.72 453.51,1112.19 454.45,1112.65 455.39,1113.11 456.34,1113.57 457.28,1114.02 458.23,1114.46 459.18,1114.91 460.14,1115.34 461.10,1115.78 462.06,1116.21 463.02,1116.63 463.99,1117.05 464.96,1117.47 465.93,1117.88 466.90,1118.28 467.88,1118.69 468.86,1119.08 469.84,1119.48 470.83,1119.86 471.82,1120.25 472.81,1120.63 473.80,1121.00 474.80,1121.37 475.80,1121.73 476.80,1122.09 477.80,1122.45 478.81,1122.80 479.82,1123.15 480.83,1123.49 481.85,1123.82 482.87,1124.15 483.89,1124.48 484.91,1124.80 485.94,1125.12 486.97,1125.43 488.00,1125.74 489.03,1126.04 490.07,1126.34 491.11,1126.63 492.16,1126.92 493.20,1127.20 494.25,1127.47 495.30,1127.75 496.36,1128.01 497.41,1128.28 498.47,1128.53 499.53,1128.78 500.60,1129.03 501.67,1129.27 502.74,1129.51 503.81,1129.74" fill="none" stroke="#1a0ad2" stroke-width="3.2" stroke-linejoin="round" stroke-linecap="round"/>
</svg>
</body></html>
